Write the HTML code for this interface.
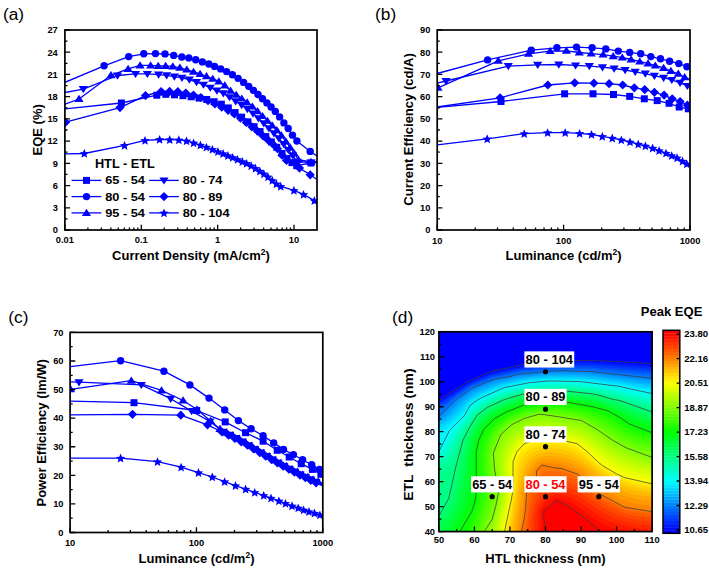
<!DOCTYPE html>
<html><head><meta charset="utf-8"><style>
html,body{margin:0;padding:0;background:#fff;}
svg{display:block;}
text{font-family:"Liberation Sans",sans-serif;}
</style></head><body>
<svg width="709" height="568" viewBox="0 0 709 568" font-family="Liberation Sans, sans-serif">
<rect width="709" height="568" fill="#fff"/>
<defs>
<clipPath id="clipA"><rect x="64.9" y="30" width="252.1" height="200"/></clipPath>
<clipPath id="clipB"><rect x="437.2" y="30" width="252.8" height="200"/></clipPath>
<clipPath id="clipC"><rect x="70.1" y="332.4" width="252.70000000000002" height="200.10000000000002"/></clipPath>
<clipPath id="clipD"><rect x="438.9" y="331.8" width="213.20000000000005" height="199.8"/></clipPath>
</defs>
<text x="2.96" y="19.90" font-size="17.3" text-anchor="start" font-weight="normal" fill="#000" >(a)</text>
<text x="375.06" y="19.90" font-size="17.3" text-anchor="start" font-weight="normal" fill="#000" >(b)</text>
<text x="8.26" y="322.70" font-size="17.3" text-anchor="start" font-weight="normal" fill="#000" >(c)</text>
<text x="392.06" y="322.70" font-size="17.3" text-anchor="start" font-weight="normal" fill="#000" >(d)</text>
<g clip-path="url(#clipA)"><path d="M65.00 153.80 L84.30 153.50 L124.50 145.40 L145.00 140.40 L159.60 139.50 L169.70 139.59 L178.80 139.80 L186.50 140.94 L193.60 142.97 L200.40 145.03 L206.40 147.13 L212.40 149.47 L217.90 151.61 L223.10 153.62 L227.90 155.53 L232.70 157.50 L237.50 159.50 L242.30 161.53 L246.60 163.46 L251.20 165.77 L255.50 168.28 L259.80 171.08 L263.90 173.88 L268.00 176.89 L272.30 180.50 L276.40 183.77 L280.70 186.30 L293.90 190.30 L303.50 194.40 L314.30 200.60 L317.00 202.00" fill="none" stroke="#0000ff" stroke-width="1.3" stroke-linejoin="round"/>
<g fill="#0000ff"><path d="M84.30 149.00L85.60 152.12L88.96 152.39L86.40 154.58L87.18 157.86L84.30 156.11L81.42 157.86L82.20 154.58L79.64 152.39L83.00 152.12Z"/><path d="M124.50 140.90L125.80 144.02L129.16 144.29L126.60 146.48L127.38 149.76L124.50 148.01L121.62 149.76L122.40 146.48L119.84 144.29L123.20 144.02Z"/><path d="M145.00 135.90L146.30 139.02L149.66 139.29L147.10 141.48L147.88 144.76L145.00 143.01L142.12 144.76L142.90 141.48L140.34 139.29L143.70 139.02Z"/><path d="M159.60 135.00L160.90 138.12L164.26 138.39L161.70 140.58L162.48 143.86L159.60 142.11L156.72 143.86L157.50 140.58L154.94 138.39L158.30 138.12Z"/><path d="M169.70 135.09L171.00 138.20L174.36 138.47L171.80 140.67L172.58 143.95L169.70 142.19L166.82 143.95L167.60 140.67L165.04 138.47L168.40 138.20Z"/><path d="M178.80 135.30L180.10 138.42L183.46 138.69L180.90 140.88L181.68 144.16L178.80 142.41L175.92 144.16L176.70 140.88L174.14 138.69L177.50 138.42Z"/><path d="M186.50 136.44L187.80 139.56L191.16 139.83L188.60 142.02L189.38 145.31L186.50 143.55L183.62 145.31L184.40 142.02L181.84 139.83L185.20 139.56Z"/><path d="M193.60 138.47L194.90 141.59L198.26 141.86L195.70 144.06L196.48 147.34L193.60 145.58L190.72 147.34L191.50 144.06L188.94 141.86L192.30 141.59Z"/><path d="M200.40 140.53L201.70 143.64L205.06 143.91L202.50 146.11L203.28 149.39L200.40 147.63L197.52 149.39L198.30 146.11L195.74 143.91L199.10 143.64Z"/><path d="M206.40 142.63L207.70 145.75L211.06 146.02L208.50 148.21L209.28 151.50L206.40 149.74L203.52 151.50L204.30 148.21L201.74 146.02L205.10 145.75Z"/><path d="M212.40 144.97L213.70 148.08L217.06 148.35L214.50 150.55L215.28 153.83L212.40 152.07L209.52 153.83L210.30 150.55L207.74 148.35L211.10 148.08Z"/><path d="M217.90 147.11L219.20 150.22L222.56 150.49L220.00 152.69L220.78 155.97L217.90 154.21L215.02 155.97L215.80 152.69L213.24 150.49L216.60 150.22Z"/><path d="M223.10 149.12L224.40 152.24L227.76 152.51L225.20 154.70L225.98 157.99L223.10 156.23L220.22 157.99L221.00 154.70L218.44 152.51L221.80 152.24Z"/><path d="M227.90 151.03L229.20 154.14L232.56 154.41L230.00 156.61L230.78 159.89L227.90 158.13L225.02 159.89L225.80 156.61L223.24 154.41L226.60 154.14Z"/><path d="M232.70 153.00L234.00 156.11L237.36 156.38L234.80 158.58L235.58 161.86L232.70 160.10L229.82 161.86L230.60 158.58L228.04 156.38L231.40 156.11Z"/><path d="M237.50 155.00L238.80 158.12L242.16 158.39L239.60 160.58L240.38 163.87L237.50 162.11L234.62 163.87L235.40 160.58L232.84 158.39L236.20 158.12Z"/><path d="M242.30 157.03L243.60 160.14L246.96 160.41L244.40 162.61L245.18 165.89L242.30 164.13L239.42 165.89L240.20 162.61L237.64 160.41L241.00 160.14Z"/><path d="M246.60 158.96L247.90 162.08L251.26 162.35L248.70 164.54L249.48 167.82L246.60 166.06L243.72 167.82L244.50 164.54L241.94 162.35L245.30 162.08Z"/><path d="M251.20 161.27L252.50 164.38L255.86 164.65L253.30 166.85L254.08 170.13L251.20 168.37L248.32 170.13L249.10 166.85L246.54 164.65L249.90 164.38Z"/><path d="M255.50 163.78L256.80 166.90L260.16 167.17L257.60 169.36L258.38 172.64L255.50 170.88L252.62 172.64L253.40 169.36L250.84 167.17L254.20 166.90Z"/><path d="M259.80 166.58L261.10 169.69L264.46 169.96L261.90 172.16L262.68 175.44L259.80 173.68L256.92 175.44L257.70 172.16L255.14 169.96L258.50 169.69Z"/><path d="M263.90 169.38L265.20 172.49L268.56 172.76L266.00 174.96L266.78 178.24L263.90 176.48L261.02 178.24L261.80 174.96L259.24 172.76L262.60 172.49Z"/><path d="M268.00 172.39L269.30 175.50L272.66 175.77L270.10 177.97L270.88 181.25L268.00 179.49L265.12 181.25L265.90 177.97L263.34 175.77L266.70 175.50Z"/><path d="M272.30 176.00L273.60 179.12L276.96 179.39L274.40 181.59L275.18 184.87L272.30 183.11L269.42 184.87L270.20 181.59L267.64 179.39L271.00 179.12Z"/><path d="M276.40 179.27L277.70 182.39L281.06 182.66L278.50 184.85L279.28 188.14L276.40 186.38L273.52 188.14L274.30 184.85L271.74 182.66L275.10 182.39Z"/><path d="M280.70 181.80L282.00 184.92L285.36 185.19L282.80 187.38L283.58 190.66L280.70 188.91L277.82 190.66L278.60 187.38L276.04 185.19L279.40 184.92Z"/><path d="M293.90 185.80L295.20 188.92L298.56 189.19L296.00 191.38L296.78 194.66L293.90 192.91L291.02 194.66L291.80 191.38L289.24 189.19L292.60 188.92Z"/><path d="M303.50 189.90L304.80 193.02L308.16 193.29L305.60 195.48L306.38 198.76L303.50 197.01L300.62 198.76L301.40 195.48L298.84 193.29L302.20 193.02Z"/><path d="M314.30 196.10L315.60 199.22L318.96 199.49L316.40 201.68L317.18 204.96L314.30 203.21L311.42 204.96L312.20 201.68L309.64 199.49L313.00 199.22Z"/></g></g>
<g clip-path="url(#clipA)"><path d="M65.60 122.20 L120.00 107.60 L145.50 95.60 L161.10 91.50 L169.60 91.41 L177.82 91.70 L185.76 93.00 L193.43 95.06 L200.85 97.52 L208.02 100.64 L214.95 103.99 L221.65 107.14 L228.12 110.32 L234.38 113.94 L240.42 118.12 L246.27 122.48 L251.92 126.78 L257.38 131.13 L262.66 135.48 L267.76 139.68 L272.69 143.89 L277.46 148.75 L282.06 155.16 L286.51 160.43 L299.50 168.10 L310.20 174.80 L317.00 179.50" fill="none" stroke="#0000ff" stroke-width="1.3" stroke-linejoin="round"/>
<g fill="#0000ff"><path d="M65.60 117.60L70.20 122.20L65.60 126.80L61.00 122.20Z"/><path d="M120.00 103.00L124.60 107.60L120.00 112.20L115.40 107.60Z"/><path d="M145.50 91.00L150.10 95.60L145.50 100.20L140.90 95.60Z"/><path d="M161.10 86.90L165.70 91.50L161.10 96.10L156.50 91.50Z"/><path d="M169.60 86.81L174.20 91.41L169.60 96.01L165.00 91.41Z"/><path d="M177.82 87.10L182.42 91.70L177.82 96.30L173.22 91.70Z"/><path d="M185.76 88.40L190.36 93.00L185.76 97.60L181.16 93.00Z"/><path d="M193.43 90.46L198.03 95.06L193.43 99.66L188.83 95.06Z"/><path d="M200.85 92.92L205.45 97.52L200.85 102.12L196.25 97.52Z"/><path d="M208.02 96.04L212.62 100.64L208.02 105.24L203.42 100.64Z"/><path d="M214.95 99.39L219.55 103.99L214.95 108.59L210.35 103.99Z"/><path d="M221.65 102.54L226.25 107.14L221.65 111.74L217.05 107.14Z"/><path d="M228.12 105.72L232.72 110.32L228.12 114.92L223.52 110.32Z"/><path d="M234.38 109.34L238.98 113.94L234.38 118.54L229.78 113.94Z"/><path d="M240.42 113.52L245.02 118.12L240.42 122.72L235.82 118.12Z"/><path d="M246.27 117.88L250.87 122.48L246.27 127.08L241.67 122.48Z"/><path d="M251.92 122.18L256.52 126.78L251.92 131.38L247.32 126.78Z"/><path d="M257.38 126.53L261.98 131.13L257.38 135.73L252.78 131.13Z"/><path d="M262.66 130.88L267.26 135.48L262.66 140.08L258.06 135.48Z"/><path d="M267.76 135.08L272.36 139.68L267.76 144.28L263.16 139.68Z"/><path d="M272.69 139.29L277.29 143.89L272.69 148.49L268.09 143.89Z"/><path d="M277.46 144.15L282.06 148.75L277.46 153.35L272.86 148.75Z"/><path d="M282.06 150.56L286.66 155.16L282.06 159.76L277.46 155.16Z"/><path d="M286.51 155.83L291.11 160.43L286.51 165.03L281.91 160.43Z"/><path d="M299.50 163.50L304.10 168.10L299.50 172.70L294.90 168.10Z"/><path d="M310.20 170.20L314.80 174.80L310.20 179.40L305.60 174.80Z"/></g></g>
<g clip-path="url(#clipA)"><path d="M65.00 108.80 L121.40 103.00 L156.80 95.20 L165.80 94.33 L174.52 94.83 L182.96 95.70 L191.14 96.78 L199.06 98.06 L206.73 99.50 L214.16 101.74 L221.36 104.17 L228.33 107.93 L235.08 112.60 L241.62 117.17 L247.96 121.85 L254.09 126.66 L260.04 131.58 L265.79 136.64 L271.37 141.89 L276.77 147.30 L282.00 153.39 L287.06 158.55 L291.97 162.62 L296.72 165.72 L311.00 163.00 L317.00 162.50" fill="none" stroke="#0000ff" stroke-width="1.3" stroke-linejoin="round"/>
<g fill="#0000ff"><rect x="117.90" y="99.50" width="7.00" height="7.00"/><rect x="153.30" y="91.70" width="7.00" height="7.00"/><rect x="162.30" y="90.83" width="7.00" height="7.00"/><rect x="171.02" y="91.33" width="7.00" height="7.00"/><rect x="179.46" y="92.20" width="7.00" height="7.00"/><rect x="187.64" y="93.28" width="7.00" height="7.00"/><rect x="195.56" y="94.56" width="7.00" height="7.00"/><rect x="203.23" y="96.00" width="7.00" height="7.00"/><rect x="210.66" y="98.24" width="7.00" height="7.00"/><rect x="217.86" y="100.67" width="7.00" height="7.00"/><rect x="224.83" y="104.43" width="7.00" height="7.00"/><rect x="231.58" y="109.10" width="7.00" height="7.00"/><rect x="238.12" y="113.67" width="7.00" height="7.00"/><rect x="244.46" y="118.35" width="7.00" height="7.00"/><rect x="250.59" y="123.16" width="7.00" height="7.00"/><rect x="256.54" y="128.08" width="7.00" height="7.00"/><rect x="262.29" y="133.14" width="7.00" height="7.00"/><rect x="267.87" y="138.39" width="7.00" height="7.00"/><rect x="273.27" y="143.80" width="7.00" height="7.00"/><rect x="278.50" y="149.89" width="7.00" height="7.00"/><rect x="283.56" y="155.05" width="7.00" height="7.00"/><rect x="288.47" y="159.12" width="7.00" height="7.00"/><rect x="293.22" y="162.22" width="7.00" height="7.00"/><rect x="307.50" y="159.50" width="7.00" height="7.00"/></g></g>
<g clip-path="url(#clipA)"><path d="M65.00 92.50 L83.30 89.10 L117.50 75.50 L135.50 73.90 L147.40 73.90 L158.60 74.60 L166.60 75.32 L174.39 76.55 L181.96 77.87 L189.33 79.55 L196.51 82.12 L203.49 84.67 L210.28 87.63 L216.89 90.58 L223.33 93.37 L229.59 97.13 L235.68 101.21 L241.61 105.05 L247.38 109.03 L252.99 113.43 L258.45 118.32 L263.77 123.37 L268.94 128.32 L273.98 133.25 L278.88 138.36 L283.65 143.95 L288.29 149.90 L292.80 155.52 L297.19 161.71 L311.00 162.50 L317.00 162.00" fill="none" stroke="#0000ff" stroke-width="1.3" stroke-linejoin="round"/>
<g fill="#0000ff"><path d="M83.30 93.30L87.90 86.10L78.70 86.10Z"/><path d="M117.50 79.70L122.10 72.50L112.90 72.50Z"/><path d="M135.50 78.10L140.10 70.90L130.90 70.90Z"/><path d="M147.40 78.10L152.00 70.90L142.80 70.90Z"/><path d="M158.60 78.80L163.20 71.60L154.00 71.60Z"/><path d="M166.60 79.52L171.20 72.32L162.00 72.32Z"/><path d="M174.39 80.75L178.99 73.55L169.79 73.55Z"/><path d="M181.96 82.07L186.56 74.87L177.36 74.87Z"/><path d="M189.33 83.75L193.93 76.55L184.73 76.55Z"/><path d="M196.51 86.32L201.11 79.12L191.91 79.12Z"/><path d="M203.49 88.87L208.09 81.67L198.89 81.67Z"/><path d="M210.28 91.83L214.88 84.63L205.68 84.63Z"/><path d="M216.89 94.78L221.49 87.58L212.29 87.58Z"/><path d="M223.33 97.57L227.93 90.37L218.73 90.37Z"/><path d="M229.59 101.33L234.19 94.13L224.99 94.13Z"/><path d="M235.68 105.41L240.28 98.21L231.08 98.21Z"/><path d="M241.61 109.25L246.21 102.05L237.01 102.05Z"/><path d="M247.38 113.23L251.98 106.03L242.78 106.03Z"/><path d="M252.99 117.63L257.59 110.43L248.39 110.43Z"/><path d="M258.45 122.52L263.05 115.32L253.85 115.32Z"/><path d="M263.77 127.57L268.37 120.37L259.17 120.37Z"/><path d="M268.94 132.52L273.54 125.32L264.34 125.32Z"/><path d="M273.98 137.45L278.58 130.25L269.38 130.25Z"/><path d="M278.88 142.56L283.48 135.36L274.28 135.36Z"/><path d="M283.65 148.15L288.25 140.95L279.05 140.95Z"/><path d="M288.29 154.10L292.89 146.90L283.69 146.90Z"/><path d="M292.80 159.72L297.40 152.52L288.20 152.52Z"/><path d="M297.19 165.91L301.79 158.71L292.59 158.71Z"/><path d="M311.00 166.70L315.60 159.50L306.40 159.50Z"/></g></g>
<g clip-path="url(#clipA)"><path d="M65.00 104.20 L79.00 99.00 L111.00 75.30 L128.10 68.90 L140.10 65.40 L150.60 65.41 L158.20 65.90 L165.62 65.90 L172.85 66.44 L179.91 67.77 L186.80 69.61 L193.52 71.87 L200.08 73.96 L206.48 76.25 L212.73 78.87 L218.82 81.45 L224.76 85.57 L230.56 90.66 L236.22 94.85 L241.75 98.59 L247.14 102.38 L252.39 106.61 L257.52 111.28 L262.53 116.12 L267.42 120.86 L272.18 125.44 L276.83 130.19 L281.37 135.49 L285.80 141.46 L290.12 147.46 L294.33 153.49 L298.45 159.69 L311.00 162.00 L317.00 161.50" fill="none" stroke="#0000ff" stroke-width="1.3" stroke-linejoin="round"/>
<g fill="#0000ff"><path d="M79.00 94.80L83.60 102.00L74.40 102.00Z"/><path d="M111.00 71.10L115.60 78.30L106.40 78.30Z"/><path d="M128.10 64.70L132.70 71.90L123.50 71.90Z"/><path d="M140.10 61.20L144.70 68.40L135.50 68.40Z"/><path d="M150.60 61.21L155.20 68.41L146.00 68.41Z"/><path d="M158.20 61.70L162.80 68.90L153.60 68.90Z"/><path d="M165.62 61.70L170.22 68.90L161.02 68.90Z"/><path d="M172.85 62.24L177.45 69.44L168.25 69.44Z"/><path d="M179.91 63.57L184.51 70.77L175.31 70.77Z"/><path d="M186.80 65.41L191.40 72.61L182.20 72.61Z"/><path d="M193.52 67.67L198.12 74.87L188.92 74.87Z"/><path d="M200.08 69.76L204.68 76.96L195.48 76.96Z"/><path d="M206.48 72.05L211.08 79.25L201.88 79.25Z"/><path d="M212.73 74.67L217.33 81.87L208.13 81.87Z"/><path d="M218.82 77.25L223.42 84.45L214.22 84.45Z"/><path d="M224.76 81.37L229.36 88.57L220.16 88.57Z"/><path d="M230.56 86.46L235.16 93.66L225.96 93.66Z"/><path d="M236.22 90.65L240.82 97.85L231.62 97.85Z"/><path d="M241.75 94.39L246.35 101.59L237.15 101.59Z"/><path d="M247.14 98.18L251.74 105.38L242.54 105.38Z"/><path d="M252.39 102.41L256.99 109.61L247.79 109.61Z"/><path d="M257.52 107.08L262.12 114.28L252.92 114.28Z"/><path d="M262.53 111.92L267.13 119.12L257.93 119.12Z"/><path d="M267.42 116.66L272.02 123.86L262.82 123.86Z"/><path d="M272.18 121.24L276.78 128.44L267.58 128.44Z"/><path d="M276.83 125.99L281.43 133.19L272.23 133.19Z"/><path d="M281.37 131.29L285.97 138.49L276.77 138.49Z"/><path d="M285.80 137.26L290.40 144.46L281.20 144.46Z"/><path d="M290.12 143.26L294.72 150.46L285.52 150.46Z"/><path d="M294.33 149.29L298.93 156.49L289.73 156.49Z"/><path d="M298.45 155.49L303.05 162.69L293.85 162.69Z"/><path d="M311.00 157.80L315.60 165.00L306.40 165.00Z"/></g></g>
<g clip-path="url(#clipA)"><path d="M65.00 82.30 L104.10 65.80 L128.70 56.60 L143.80 53.80 L155.50 53.60 L165.00 53.90 L173.70 55.40 L181.80 57.06 L188.80 57.90 L195.70 59.73 L202.40 61.90 L208.80 64.07 L214.60 66.38 L220.70 68.88 L226.60 71.60 L232.40 74.71 L238.10 78.37 L243.60 82.38 L248.70 86.36 L253.40 90.35 L258.00 94.52 L262.50 98.75 L266.90 102.88 L271.10 106.93 L275.30 111.38 L279.60 116.88 L283.90 122.90 L288.20 128.50 L292.50 135.16 L296.90 140.99 L310.20 151.40 L317.00 156.00" fill="none" stroke="#0000ff" stroke-width="1.3" stroke-linejoin="round"/>
<g fill="#0000ff"><circle cx="104.10" cy="65.80" r="3.70"/><circle cx="128.70" cy="56.60" r="3.70"/><circle cx="143.80" cy="53.80" r="3.70"/><circle cx="155.50" cy="53.60" r="3.70"/><circle cx="165.00" cy="53.90" r="3.70"/><circle cx="173.70" cy="55.40" r="3.70"/><circle cx="181.80" cy="57.06" r="3.70"/><circle cx="188.80" cy="57.90" r="3.70"/><circle cx="195.70" cy="59.73" r="3.70"/><circle cx="202.40" cy="61.90" r="3.70"/><circle cx="208.80" cy="64.07" r="3.70"/><circle cx="214.60" cy="66.38" r="3.70"/><circle cx="220.70" cy="68.88" r="3.70"/><circle cx="226.60" cy="71.60" r="3.70"/><circle cx="232.40" cy="74.71" r="3.70"/><circle cx="238.10" cy="78.37" r="3.70"/><circle cx="243.60" cy="82.38" r="3.70"/><circle cx="248.70" cy="86.36" r="3.70"/><circle cx="253.40" cy="90.35" r="3.70"/><circle cx="258.00" cy="94.52" r="3.70"/><circle cx="262.50" cy="98.75" r="3.70"/><circle cx="266.90" cy="102.88" r="3.70"/><circle cx="271.10" cy="106.93" r="3.70"/><circle cx="275.30" cy="111.38" r="3.70"/><circle cx="279.60" cy="116.88" r="3.70"/><circle cx="283.90" cy="122.90" r="3.70"/><circle cx="288.20" cy="128.50" r="3.70"/><circle cx="292.50" cy="135.16" r="3.70"/><circle cx="296.90" cy="140.99" r="3.70"/><circle cx="310.20" cy="151.40" r="3.70"/></g></g>
<path d="M64.90 230.00h5.2 M64.90 207.78h5.2 M64.90 185.56h5.2 M64.90 163.33h5.2 M64.90 141.11h5.2 M64.90 118.89h5.2 M64.90 96.67h5.2 M64.90 74.44h5.2 M64.90 52.22h5.2 M64.90 30.00h5.2 M64.90 218.89h2.6 M64.90 196.67h2.6 M64.90 174.44h2.6 M64.90 152.22h2.6 M64.90 130.00h2.6 M64.90 107.78h2.6 M64.90 85.56h2.6 M64.90 63.33h2.6 M64.90 41.11h2.6 M64.90 230.00v-5.2 M141.27 230.00v-5.2 M217.64 230.00v-5.2 M294.01 230.00v-5.2 M87.89 230.00v-2.6 M101.34 230.00v-2.6 M110.88 230.00v-2.6 M118.28 230.00v-2.6 M124.33 230.00v-2.6 M129.44 230.00v-2.6 M133.87 230.00v-2.6 M137.78 230.00v-2.6 M164.26 230.00v-2.6 M177.71 230.00v-2.6 M187.25 230.00v-2.6 M194.65 230.00v-2.6 M200.70 230.00v-2.6 M205.81 230.00v-2.6 M210.24 230.00v-2.6 M214.15 230.00v-2.6 M240.63 230.00v-2.6 M254.08 230.00v-2.6 M263.62 230.00v-2.6 M271.02 230.00v-2.6 M277.07 230.00v-2.6 M282.18 230.00v-2.6 M286.61 230.00v-2.6 M290.52 230.00v-2.6" stroke="#000" stroke-width="1.3" fill="none"/>
<rect x="64.90" y="30.00" width="252.10" height="200.00" fill="none" stroke="#000" stroke-width="1.7"/>
<text x="57.80" y="233.30" font-size="9.3" text-anchor="end" font-weight="bold" fill="#000" >0</text>
<text x="57.80" y="211.08" font-size="9.3" text-anchor="end" font-weight="bold" fill="#000" >3</text>
<text x="57.80" y="188.86" font-size="9.3" text-anchor="end" font-weight="bold" fill="#000" >6</text>
<text x="57.80" y="166.63" font-size="9.3" text-anchor="end" font-weight="bold" fill="#000" >9</text>
<text x="57.80" y="144.41" font-size="9.3" text-anchor="end" font-weight="bold" fill="#000" >12</text>
<text x="57.80" y="122.19" font-size="9.3" text-anchor="end" font-weight="bold" fill="#000" >15</text>
<text x="57.80" y="99.97" font-size="9.3" text-anchor="end" font-weight="bold" fill="#000" >18</text>
<text x="57.80" y="77.74" font-size="9.3" text-anchor="end" font-weight="bold" fill="#000" >21</text>
<text x="57.80" y="55.52" font-size="9.3" text-anchor="end" font-weight="bold" fill="#000" >24</text>
<text x="57.80" y="33.30" font-size="9.3" text-anchor="end" font-weight="bold" fill="#000" >27</text>
<text x="64.90" y="243.20" font-size="9.3" text-anchor="middle" font-weight="bold" fill="#000" >0.01</text>
<text x="141.27" y="243.20" font-size="9.3" text-anchor="middle" font-weight="bold" fill="#000" >0.1</text>
<text x="217.64" y="243.20" font-size="9.3" text-anchor="middle" font-weight="bold" fill="#000" >1</text>
<text x="294.01" y="243.20" font-size="9.3" text-anchor="middle" font-weight="bold" fill="#000" >10</text>
<text x="0.00" y="0.00" font-size="13" text-anchor="middle" font-weight="bold" fill="#000" transform="translate(41.6,129.8) rotate(-90)">EQE (%)</text>
<text x="191.00" y="259.70" font-size="13" text-anchor="middle" font-weight="bold" fill="#000" >Current Density (mA/cm<tspan dy="-4.5" font-size="8.5">2</tspan><tspan dy="4.5">)</tspan></text>
<text x="124.90" y="167.50" font-size="12" text-anchor="middle" font-weight="bold" fill="#000" textLength="60" lengthAdjust="spacingAndGlyphs">HTL - ETL</text>
<path d="M71.6 180.4H101.3" stroke="#0000ff" stroke-width="1.3"/>
<g fill="#0000ff"><rect x="83.00" y="176.90" width="7.00" height="7.00"/></g>
<text x="105.20" y="184.30" font-size="11.6" text-anchor="start" font-weight="bold" fill="#000" textLength="39.8" lengthAdjust="spacingAndGlyphs">65 - 54</text>
<path d="M71.6 196.6H101.3" stroke="#0000ff" stroke-width="1.3"/>
<g fill="#0000ff"><circle cx="86.50" cy="196.60" r="3.70"/></g>
<text x="105.20" y="200.50" font-size="11.6" text-anchor="start" font-weight="bold" fill="#000" textLength="39.8" lengthAdjust="spacingAndGlyphs">80 - 54</text>
<path d="M71.6 212.9H101.3" stroke="#0000ff" stroke-width="1.3"/>
<g fill="#0000ff"><path d="M86.50 208.70L91.10 215.90L81.90 215.90Z"/></g>
<text x="105.20" y="216.80" font-size="11.6" text-anchor="start" font-weight="bold" fill="#000" textLength="39.8" lengthAdjust="spacingAndGlyphs">95 - 54</text>
<path d="M149.2 180.4H178.8" stroke="#0000ff" stroke-width="1.3"/>
<g fill="#0000ff"><path d="M164.00 184.60L168.60 177.40L159.40 177.40Z"/></g>
<text x="182.70" y="184.30" font-size="11.6" text-anchor="start" font-weight="bold" fill="#000" textLength="39.8" lengthAdjust="spacingAndGlyphs">80 - 74</text>
<path d="M149.2 196.6H178.8" stroke="#0000ff" stroke-width="1.3"/>
<g fill="#0000ff"><path d="M164.00 192.00L168.60 196.60L164.00 201.20L159.40 196.60Z"/></g>
<text x="182.70" y="200.50" font-size="11.6" text-anchor="start" font-weight="bold" fill="#000" textLength="39.8" lengthAdjust="spacingAndGlyphs">80 - 89</text>
<path d="M149.2 212.9H178.8" stroke="#0000ff" stroke-width="1.3"/>
<g fill="#0000ff"><path d="M164.00 208.40L165.30 211.52L168.66 211.79L166.10 213.98L166.88 217.26L164.00 215.51L161.12 217.26L161.90 213.98L159.34 211.79L162.70 211.52Z"/></g>
<text x="182.70" y="216.80" font-size="11.6" text-anchor="start" font-weight="bold" fill="#000" textLength="46.9" lengthAdjust="spacingAndGlyphs">80 - 104</text>
<g clip-path="url(#clipB)"><path d="M437.20 144.90 L487.20 138.80 L524.20 133.70 L547.60 132.70 L565.20 132.70 L579.60 133.40 L591.50 134.50 L602.30 136.30 L612.30 138.10 L621.30 139.90 L630.00 142.00 L638.20 144.20 L645.40 146.00 L652.60 148.10 L659.10 150.60 L666.00 153.20 L671.70 155.70 L677.10 157.80 L682.50 161.10 L686.80 164.00 L690.00 166.00" fill="none" stroke="#0000ff" stroke-width="1.3" stroke-linejoin="round"/>
<g fill="#0000ff"><path d="M487.20 134.30L488.50 137.42L491.86 137.69L489.30 139.88L490.08 143.16L487.20 141.41L484.32 143.16L485.10 139.88L482.54 137.69L485.90 137.42Z"/><path d="M524.20 129.20L525.50 132.32L528.86 132.59L526.30 134.78L527.08 138.06L524.20 136.31L521.32 138.06L522.10 134.78L519.54 132.59L522.90 132.32Z"/><path d="M547.60 128.20L548.90 131.32L552.26 131.59L549.70 133.78L550.48 137.06L547.60 135.31L544.72 137.06L545.50 133.78L542.94 131.59L546.30 131.32Z"/><path d="M565.20 128.20L566.50 131.32L569.86 131.59L567.30 133.78L568.08 137.06L565.20 135.31L562.32 137.06L563.10 133.78L560.54 131.59L563.90 131.32Z"/><path d="M579.60 128.90L580.90 132.02L584.26 132.29L581.70 134.48L582.48 137.76L579.60 136.01L576.72 137.76L577.50 134.48L574.94 132.29L578.30 132.02Z"/><path d="M591.50 130.00L592.80 133.12L596.16 133.39L593.60 135.58L594.38 138.86L591.50 137.11L588.62 138.86L589.40 135.58L586.84 133.39L590.20 133.12Z"/><path d="M602.30 131.80L603.60 134.92L606.96 135.19L604.40 137.38L605.18 140.66L602.30 138.91L599.42 140.66L600.20 137.38L597.64 135.19L601.00 134.92Z"/><path d="M612.30 133.60L613.60 136.72L616.96 136.99L614.40 139.18L615.18 142.46L612.30 140.71L609.42 142.46L610.20 139.18L607.64 136.99L611.00 136.72Z"/><path d="M621.30 135.40L622.60 138.52L625.96 138.79L623.40 140.98L624.18 144.26L621.30 142.51L618.42 144.26L619.20 140.98L616.64 138.79L620.00 138.52Z"/><path d="M630.00 137.50L631.30 140.62L634.66 140.89L632.10 143.08L632.88 146.36L630.00 144.61L627.12 146.36L627.90 143.08L625.34 140.89L628.70 140.62Z"/><path d="M638.20 139.70L639.50 142.82L642.86 143.09L640.30 145.28L641.08 148.56L638.20 146.81L635.32 148.56L636.10 145.28L633.54 143.09L636.90 142.82Z"/><path d="M645.40 141.50L646.70 144.62L650.06 144.89L647.50 147.08L648.28 150.36L645.40 148.61L642.52 150.36L643.30 147.08L640.74 144.89L644.10 144.62Z"/><path d="M652.60 143.60L653.90 146.72L657.26 146.99L654.70 149.18L655.48 152.46L652.60 150.71L649.72 152.46L650.50 149.18L647.94 146.99L651.30 146.72Z"/><path d="M659.10 146.10L660.40 149.22L663.76 149.49L661.20 151.68L661.98 154.96L659.10 153.21L656.22 154.96L657.00 151.68L654.44 149.49L657.80 149.22Z"/><path d="M666.00 148.70L667.30 151.82L670.66 152.09L668.10 154.28L668.88 157.56L666.00 155.81L663.12 157.56L663.90 154.28L661.34 152.09L664.70 151.82Z"/><path d="M671.70 151.20L673.00 154.32L676.36 154.59L673.80 156.78L674.58 160.06L671.70 158.31L668.82 160.06L669.60 156.78L667.04 154.59L670.40 154.32Z"/><path d="M677.10 153.30L678.40 156.42L681.76 156.69L679.20 158.88L679.98 162.16L677.10 160.41L674.22 162.16L675.00 158.88L672.44 156.69L675.80 156.42Z"/><path d="M682.50 156.60L683.80 159.72L687.16 159.99L684.60 162.18L685.38 165.46L682.50 163.71L679.62 165.46L680.40 162.18L677.84 159.99L681.20 159.72Z"/><path d="M686.80 159.50L688.10 162.62L691.46 162.89L688.90 165.08L689.68 168.36L686.80 166.61L683.92 168.36L684.70 165.08L682.14 162.89L685.50 162.62Z"/></g></g>
<g clip-path="url(#clipB)"><path d="M437.20 107.40 L501.00 101.50 L564.60 93.80 L593.00 93.80 L613.50 94.50 L629.70 96.40 L644.30 98.80 L657.20 100.60 L669.10 103.30 L679.20 107.00 L688.30 108.80 L690.00 109.30" fill="none" stroke="#0000ff" stroke-width="1.3" stroke-linejoin="round"/>
<g fill="#0000ff"><rect x="497.50" y="98.00" width="7.00" height="7.00"/><rect x="561.10" y="90.30" width="7.00" height="7.00"/><rect x="589.50" y="90.30" width="7.00" height="7.00"/><rect x="610.00" y="91.00" width="7.00" height="7.00"/><rect x="626.20" y="92.90" width="7.00" height="7.00"/><rect x="640.80" y="95.30" width="7.00" height="7.00"/><rect x="653.70" y="97.10" width="7.00" height="7.00"/><rect x="665.60" y="99.80" width="7.00" height="7.00"/><rect x="675.70" y="103.50" width="7.00" height="7.00"/><rect x="684.80" y="105.30" width="7.00" height="7.00"/></g></g>
<g clip-path="url(#clipB)"><path d="M437.20 107.00 L500.10 97.80 L547.80 85.00 L574.70 82.80 L593.90 83.20 L609.10 83.70 L622.70 85.00 L634.30 87.80 L644.70 89.60 L654.40 92.30 L664.10 95.10 L672.20 98.80 L680.10 101.50 L687.40 105.20 L690.00 106.50" fill="none" stroke="#0000ff" stroke-width="1.3" stroke-linejoin="round"/>
<g fill="#0000ff"><path d="M500.10 93.20L504.70 97.80L500.10 102.40L495.50 97.80Z"/><path d="M547.80 80.40L552.40 85.00L547.80 89.60L543.20 85.00Z"/><path d="M574.70 78.20L579.30 82.80L574.70 87.40L570.10 82.80Z"/><path d="M593.90 78.60L598.50 83.20L593.90 87.80L589.30 83.20Z"/><path d="M609.10 79.10L613.70 83.70L609.10 88.30L604.50 83.70Z"/><path d="M622.70 80.40L627.30 85.00L622.70 89.60L618.10 85.00Z"/><path d="M634.30 83.20L638.90 87.80L634.30 92.40L629.70 87.80Z"/><path d="M644.70 85.00L649.30 89.60L644.70 94.20L640.10 89.60Z"/><path d="M654.40 87.70L659.00 92.30L654.40 96.90L649.80 92.30Z"/><path d="M664.10 90.50L668.70 95.10L664.10 99.70L659.50 95.10Z"/><path d="M672.20 94.20L676.80 98.80L672.20 103.40L667.60 98.80Z"/><path d="M680.10 96.90L684.70 101.50L680.10 106.10L675.50 101.50Z"/><path d="M687.40 100.60L692.00 105.20L687.40 109.80L682.80 105.20Z"/></g></g>
<g clip-path="url(#clipB)"><path d="M437.20 83.20 L446.00 81.00 L508.30 66.10 L537.70 64.80 L558.80 64.50 L575.60 65.40 L589.30 66.10 L602.50 67.20 L614.10 68.50 L625.10 70.00 L635.20 71.80 L645.30 73.60 L654.40 75.80 L663.60 77.70 L671.80 79.90 L680.10 82.80 L687.40 85.90 L690.00 87.00" fill="none" stroke="#0000ff" stroke-width="1.3" stroke-linejoin="round"/>
<g fill="#0000ff"><path d="M446.00 85.20L450.60 78.00L441.40 78.00Z"/><path d="M508.30 70.30L512.90 63.10L503.70 63.10Z"/><path d="M537.70 69.00L542.30 61.80L533.10 61.80Z"/><path d="M558.80 68.70L563.40 61.50L554.20 61.50Z"/><path d="M575.60 69.60L580.20 62.40L571.00 62.40Z"/><path d="M589.30 70.30L593.90 63.10L584.70 63.10Z"/><path d="M602.50 71.40L607.10 64.20L597.90 64.20Z"/><path d="M614.10 72.70L618.70 65.50L609.50 65.50Z"/><path d="M625.10 74.20L629.70 67.00L620.50 67.00Z"/><path d="M635.20 76.00L639.80 68.80L630.60 68.80Z"/><path d="M645.30 77.80L649.90 70.60L640.70 70.60Z"/><path d="M654.40 80.00L659.00 72.80L649.80 72.80Z"/><path d="M663.60 81.90L668.20 74.70L659.00 74.70Z"/><path d="M671.80 84.10L676.40 76.90L667.20 76.90Z"/><path d="M680.10 87.00L684.70 79.80L675.50 79.80Z"/><path d="M687.40 90.10L692.00 82.90L682.80 82.90Z"/></g></g>
<g clip-path="url(#clipB)"><path d="M437.20 88.30 L438.00 87.82 L498.30 60.80 L528.50 53.80 L550.10 51.10 L566.40 50.80 L579.30 52.50 L591.20 53.60 L603.10 54.60 L613.20 56.20 L622.30 57.60 L631.10 59.50 L639.80 61.60 L648.00 63.40 L655.30 65.60 L663.60 67.90 L670.90 71.00 L678.30 73.80 L684.70 77.30 L690.00 79.50" fill="none" stroke="#0000ff" stroke-width="1.3" stroke-linejoin="round"/>
<g fill="#0000ff"><path d="M438.00 83.62L442.60 90.82L433.40 90.82Z"/><path d="M498.30 56.60L502.90 63.80L493.70 63.80Z"/><path d="M528.50 49.60L533.10 56.80L523.90 56.80Z"/><path d="M550.10 46.90L554.70 54.10L545.50 54.10Z"/><path d="M566.40 46.60L571.00 53.80L561.80 53.80Z"/><path d="M579.30 48.30L583.90 55.50L574.70 55.50Z"/><path d="M591.20 49.40L595.80 56.60L586.60 56.60Z"/><path d="M603.10 50.40L607.70 57.60L598.50 57.60Z"/><path d="M613.20 52.00L617.80 59.20L608.60 59.20Z"/><path d="M622.30 53.40L626.90 60.60L617.70 60.60Z"/><path d="M631.10 55.30L635.70 62.50L626.50 62.50Z"/><path d="M639.80 57.40L644.40 64.60L635.20 64.60Z"/><path d="M648.00 59.20L652.60 66.40L643.40 66.40Z"/><path d="M655.30 61.40L659.90 68.60L650.70 68.60Z"/><path d="M663.60 63.70L668.20 70.90L659.00 70.90Z"/><path d="M670.90 66.80L675.50 74.00L666.30 74.00Z"/><path d="M678.30 69.60L682.90 76.80L673.70 76.80Z"/><path d="M684.70 73.10L689.30 80.30L680.10 80.30Z"/></g></g>
<g clip-path="url(#clipB)"><path d="M437.20 73.50 L487.60 59.90 L531.30 50.20 L556.90 47.80 L576.50 47.10 L592.10 47.80 L605.80 48.90 L618.30 51.10 L629.70 52.40 L640.70 53.80 L650.80 56.60 L660.50 58.80 L669.60 61.20 L678.80 63.60 L686.90 66.70 L690.00 68.00" fill="none" stroke="#0000ff" stroke-width="1.3" stroke-linejoin="round"/>
<g fill="#0000ff"><circle cx="487.60" cy="59.90" r="3.70"/><circle cx="531.30" cy="50.20" r="3.70"/><circle cx="556.90" cy="47.80" r="3.70"/><circle cx="576.50" cy="47.10" r="3.70"/><circle cx="592.10" cy="47.80" r="3.70"/><circle cx="605.80" cy="48.90" r="3.70"/><circle cx="618.30" cy="51.10" r="3.70"/><circle cx="629.70" cy="52.40" r="3.70"/><circle cx="640.70" cy="53.80" r="3.70"/><circle cx="650.80" cy="56.60" r="3.70"/><circle cx="660.50" cy="58.80" r="3.70"/><circle cx="669.60" cy="61.20" r="3.70"/><circle cx="678.80" cy="63.60" r="3.70"/><circle cx="686.90" cy="66.70" r="3.70"/></g></g>
<path d="M437.20 230.00h5.2 M437.20 207.78h5.2 M437.20 185.56h5.2 M437.20 163.33h5.2 M437.20 141.11h5.2 M437.20 118.89h5.2 M437.20 96.67h5.2 M437.20 74.44h5.2 M437.20 52.22h5.2 M437.20 30.00h5.2 M437.20 218.89h2.6 M437.20 196.67h2.6 M437.20 174.44h2.6 M437.20 152.22h2.6 M437.20 130.00h2.6 M437.20 107.78h2.6 M437.20 85.56h2.6 M437.20 63.33h2.6 M437.20 41.11h2.6 M437.20 230.00v-5.2 M563.60 230.00v-5.2 M690.00 230.00v-5.2 M475.25 230.00v-2.6 M497.51 230.00v-2.6 M513.30 230.00v-2.6 M525.55 230.00v-2.6 M535.56 230.00v-2.6 M544.02 230.00v-2.6 M551.35 230.00v-2.6 M557.82 230.00v-2.6 M601.65 230.00v-2.6 M623.91 230.00v-2.6 M639.70 230.00v-2.6 M651.95 230.00v-2.6 M661.96 230.00v-2.6 M670.42 230.00v-2.6 M677.75 230.00v-2.6 M684.22 230.00v-2.6" stroke="#000" stroke-width="1.3" fill="none"/>
<rect x="437.20" y="30.00" width="252.80" height="200.00" fill="none" stroke="#000" stroke-width="1.7"/>
<text x="430.40" y="233.30" font-size="9.3" text-anchor="end" font-weight="bold" fill="#000" >0</text>
<text x="430.40" y="211.08" font-size="9.3" text-anchor="end" font-weight="bold" fill="#000" >10</text>
<text x="430.40" y="188.86" font-size="9.3" text-anchor="end" font-weight="bold" fill="#000" >20</text>
<text x="430.40" y="166.63" font-size="9.3" text-anchor="end" font-weight="bold" fill="#000" >30</text>
<text x="430.40" y="144.41" font-size="9.3" text-anchor="end" font-weight="bold" fill="#000" >40</text>
<text x="430.40" y="122.19" font-size="9.3" text-anchor="end" font-weight="bold" fill="#000" >50</text>
<text x="430.40" y="99.97" font-size="9.3" text-anchor="end" font-weight="bold" fill="#000" >60</text>
<text x="430.40" y="77.74" font-size="9.3" text-anchor="end" font-weight="bold" fill="#000" >70</text>
<text x="430.40" y="55.52" font-size="9.3" text-anchor="end" font-weight="bold" fill="#000" >80</text>
<text x="430.40" y="33.30" font-size="9.3" text-anchor="end" font-weight="bold" fill="#000" >90</text>
<text x="437.20" y="243.70" font-size="9.3" text-anchor="middle" font-weight="bold" fill="#000" >10</text>
<text x="563.60" y="243.70" font-size="9.3" text-anchor="middle" font-weight="bold" fill="#000" >100</text>
<text x="690.00" y="243.70" font-size="9.3" text-anchor="middle" font-weight="bold" fill="#000" >1000</text>
<text x="0.00" y="0.00" font-size="13" text-anchor="middle" font-weight="bold" fill="#000" transform="translate(412.6,129.5) rotate(-90)">Current Efficiency (cd/A)</text>
<text x="563.60" y="259.70" font-size="13" text-anchor="middle" font-weight="bold" fill="#000" >Luminance (cd/m<tspan dy="-4.5" font-size="8.5">2</tspan><tspan dy="4.5">)</tspan></text>
<g clip-path="url(#clipC)"><path d="M70.10 458.10 L120.60 458.10 L157.50 461.70 L181.10 467.20 L198.50 472.60 L212.30 477.00 L224.60 481.70 L235.50 485.60 L245.60 489.10 L254.70 492.40 L263.70 495.50 L271.00 498.10 L278.90 500.90 L285.50 503.40 L292.00 505.80 L298.20 508.00 L303.60 510.00 L309.00 511.60 L314.50 513.10 L319.90 515.00 L322.80 516.00" fill="none" stroke="#0000ff" stroke-width="1.3" stroke-linejoin="round"/>
<g fill="#0000ff"><path d="M120.60 453.60L121.90 456.72L125.26 456.99L122.70 459.18L123.48 462.46L120.60 460.70L117.72 462.46L118.50 459.18L115.94 456.99L119.30 456.72Z"/><path d="M157.50 457.20L158.80 460.32L162.16 460.59L159.60 462.78L160.38 466.06L157.50 464.30L154.62 466.06L155.40 462.78L152.84 460.59L156.20 460.32Z"/><path d="M181.10 462.70L182.40 465.82L185.76 466.09L183.20 468.28L183.98 471.56L181.10 469.80L178.22 471.56L179.00 468.28L176.44 466.09L179.80 465.82Z"/><path d="M198.50 468.10L199.80 471.22L203.16 471.49L200.60 473.68L201.38 476.96L198.50 475.20L195.62 476.96L196.40 473.68L193.84 471.49L197.20 471.22Z"/><path d="M212.30 472.50L213.60 475.62L216.96 475.89L214.40 478.08L215.18 481.36L212.30 479.60L209.42 481.36L210.20 478.08L207.64 475.89L211.00 475.62Z"/><path d="M224.60 477.20L225.90 480.32L229.26 480.59L226.70 482.78L227.48 486.06L224.60 484.30L221.72 486.06L222.50 482.78L219.94 480.59L223.30 480.32Z"/><path d="M235.50 481.10L236.80 484.22L240.16 484.49L237.60 486.68L238.38 489.96L235.50 488.20L232.62 489.96L233.40 486.68L230.84 484.49L234.20 484.22Z"/><path d="M245.60 484.60L246.90 487.72L250.26 487.99L247.70 490.18L248.48 493.46L245.60 491.70L242.72 493.46L243.50 490.18L240.94 487.99L244.30 487.72Z"/><path d="M254.70 487.90L256.00 491.02L259.36 491.29L256.80 493.48L257.58 496.76L254.70 495.00L251.82 496.76L252.60 493.48L250.04 491.29L253.40 491.02Z"/><path d="M263.70 491.00L265.00 494.12L268.36 494.39L265.80 496.58L266.58 499.86L263.70 498.10L260.82 499.86L261.60 496.58L259.04 494.39L262.40 494.12Z"/><path d="M271.00 493.60L272.30 496.72L275.66 496.99L273.10 499.18L273.88 502.46L271.00 500.70L268.12 502.46L268.90 499.18L266.34 496.99L269.70 496.72Z"/><path d="M278.90 496.40L280.20 499.52L283.56 499.79L281.00 501.98L281.78 505.26L278.90 503.50L276.02 505.26L276.80 501.98L274.24 499.79L277.60 499.52Z"/><path d="M285.50 498.90L286.80 502.02L290.16 502.29L287.60 504.48L288.38 507.76L285.50 506.00L282.62 507.76L283.40 504.48L280.84 502.29L284.20 502.02Z"/><path d="M292.00 501.30L293.30 504.42L296.66 504.69L294.10 506.88L294.88 510.16L292.00 508.40L289.12 510.16L289.90 506.88L287.34 504.69L290.70 504.42Z"/><path d="M298.20 503.50L299.50 506.62L302.86 506.89L300.30 509.08L301.08 512.36L298.20 510.60L295.32 512.36L296.10 509.08L293.54 506.89L296.90 506.62Z"/><path d="M303.60 505.50L304.90 508.62L308.26 508.89L305.70 511.08L306.48 514.36L303.60 512.61L300.72 514.36L301.50 511.08L298.94 508.89L302.30 508.62Z"/><path d="M309.00 507.10L310.30 510.22L313.66 510.49L311.10 512.68L311.88 515.96L309.00 514.21L306.12 515.96L306.90 512.68L304.34 510.49L307.70 510.22Z"/><path d="M314.50 508.60L315.80 511.72L319.16 511.99L316.60 514.18L317.38 517.46L314.50 515.71L311.62 517.46L312.40 514.18L309.84 511.99L313.20 511.72Z"/><path d="M319.90 510.50L321.20 513.62L324.56 513.89L322.00 516.08L322.78 519.36L319.90 517.61L317.02 519.36L317.80 516.08L315.24 513.89L318.60 513.62Z"/></g></g>
<g clip-path="url(#clipC)"><path d="M70.10 414.80 L132.50 414.30 L180.80 415.20 L207.50 424.80 L222.00 432.00 L228.50 435.21 L234.91 438.43 L241.24 441.79 L247.48 445.27 L253.63 448.96 L259.70 452.61 L265.69 456.15 L271.60 459.61 L277.43 462.98 L283.18 466.20 L288.85 469.27 L294.45 472.21 L299.96 475.03 L305.41 477.73 L310.78 480.34 L316.08 482.87 L322.80 486.00" fill="none" stroke="#0000ff" stroke-width="1.3" stroke-linejoin="round"/>
<g fill="#0000ff"><path d="M132.50 409.70L137.10 414.30L132.50 418.90L127.90 414.30Z"/><path d="M180.80 410.60L185.40 415.20L180.80 419.80L176.20 415.20Z"/><path d="M207.50 420.20L212.10 424.80L207.50 429.40L202.90 424.80Z"/><path d="M222.00 427.40L226.60 432.00L222.00 436.60L217.40 432.00Z"/><path d="M228.50 430.61L233.10 435.21L228.50 439.81L223.90 435.21Z"/><path d="M234.91 433.83L239.51 438.43L234.91 443.03L230.31 438.43Z"/><path d="M241.24 437.19L245.84 441.79L241.24 446.39L236.64 441.79Z"/><path d="M247.48 440.67L252.08 445.27L247.48 449.87L242.88 445.27Z"/><path d="M253.63 444.36L258.23 448.96L253.63 453.56L249.03 448.96Z"/><path d="M259.70 448.01L264.30 452.61L259.70 457.21L255.10 452.61Z"/><path d="M265.69 451.55L270.29 456.15L265.69 460.75L261.09 456.15Z"/><path d="M271.60 455.01L276.20 459.61L271.60 464.21L267.00 459.61Z"/><path d="M277.43 458.38L282.03 462.98L277.43 467.58L272.83 462.98Z"/><path d="M283.18 461.60L287.78 466.20L283.18 470.80L278.58 466.20Z"/><path d="M288.85 464.67L293.45 469.27L288.85 473.87L284.25 469.27Z"/><path d="M294.45 467.61L299.05 472.21L294.45 476.81L289.85 472.21Z"/><path d="M299.96 470.43L304.56 475.03L299.96 479.63L295.36 475.03Z"/><path d="M305.41 473.13L310.01 477.73L305.41 482.33L300.81 477.73Z"/><path d="M310.78 475.74L315.38 480.34L310.78 484.94L306.18 480.34Z"/><path d="M316.08 478.27L320.68 482.87L316.08 487.47L311.48 482.87Z"/></g></g>
<g clip-path="url(#clipC)"><path d="M70.10 401.10 L134.00 402.70 L196.70 410.50 L225.20 421.90 L245.50 432.70 L263.10 441.20 L277.20 450.30 L289.20 457.00 L301.20 463.70 L312.40 469.40 L320.90 474.30 L322.80 475.30" fill="none" stroke="#0000ff" stroke-width="1.3" stroke-linejoin="round"/>
<g fill="#0000ff"><rect x="130.50" y="399.20" width="7.00" height="7.00"/><rect x="193.20" y="407.00" width="7.00" height="7.00"/><rect x="221.70" y="418.40" width="7.00" height="7.00"/><rect x="242.00" y="429.20" width="7.00" height="7.00"/><rect x="259.60" y="437.70" width="7.00" height="7.00"/><rect x="273.70" y="446.80" width="7.00" height="7.00"/><rect x="285.70" y="453.50" width="7.00" height="7.00"/><rect x="297.70" y="460.20" width="7.00" height="7.00"/><rect x="308.90" y="465.90" width="7.00" height="7.00"/><rect x="317.40" y="470.80" width="7.00" height="7.00"/></g></g>
<g clip-path="url(#clipC)"><path d="M70.10 381.80 L79.00 382.20 L141.30 384.90 L170.70 398.70 L191.60 411.10 L210.00 421.50 L223.00 431.76 L229.50 434.87 L235.90 437.95 L242.20 441.60 L248.40 445.34 L254.51 449.01 L260.52 452.59 L266.44 456.09 L272.27 459.50 L278.01 462.82 L283.66 465.97 L289.22 468.97 L294.70 471.84 L300.09 474.61 L305.40 477.26 L310.62 479.72 L315.77 482.02 L322.80 485.00" fill="none" stroke="#0000ff" stroke-width="1.3" stroke-linejoin="round"/>
<g fill="#0000ff"><path d="M79.00 386.40L83.60 379.20L74.40 379.20Z"/><path d="M141.30 389.10L145.90 381.90L136.70 381.90Z"/><path d="M170.70 402.90L175.30 395.70L166.10 395.70Z"/><path d="M191.60 415.30L196.20 408.10L187.00 408.10Z"/><path d="M210.00 425.70L214.60 418.50L205.40 418.50Z"/><path d="M223.00 435.96L227.60 428.76L218.40 428.76Z"/><path d="M229.50 439.07L234.10 431.87L224.90 431.87Z"/><path d="M235.90 442.15L240.50 434.95L231.30 434.95Z"/><path d="M242.20 445.80L246.80 438.60L237.60 438.60Z"/><path d="M248.40 449.54L253.00 442.34L243.80 442.34Z"/><path d="M254.51 453.21L259.11 446.01L249.91 446.01Z"/><path d="M260.52 456.79L265.12 449.59L255.92 449.59Z"/><path d="M266.44 460.29L271.04 453.09L261.84 453.09Z"/><path d="M272.27 463.70L276.87 456.50L267.67 456.50Z"/><path d="M278.01 467.02L282.61 459.82L273.41 459.82Z"/><path d="M283.66 470.17L288.26 462.97L279.06 462.97Z"/><path d="M289.22 473.17L293.82 465.97L284.62 465.97Z"/><path d="M294.70 476.04L299.30 468.84L290.10 468.84Z"/><path d="M300.09 478.81L304.69 471.61L295.49 471.61Z"/><path d="M305.40 481.46L310.00 474.26L300.80 474.26Z"/><path d="M310.62 483.92L315.22 476.72L306.02 476.72Z"/><path d="M315.77 486.22L320.37 479.02L311.17 479.02Z"/></g></g>
<g clip-path="url(#clipC)"><path d="M70.10 389.50 L70.60 389.29 L131.30 380.70 L161.50 390.40 L183.10 400.50 L197.00 409.50 L210.60 421.00 L220.00 429.00 L226.50 432.54 L232.90 435.47 L239.21 438.70 L245.42 442.10 L251.54 445.69 L257.57 449.34 L263.50 452.86 L269.35 456.29 L275.11 459.65 L280.78 462.88 L286.37 465.94 L291.88 468.87 L297.30 471.69 L302.64 474.40 L307.90 476.95 L313.08 479.33 L318.18 481.57 L322.80 483.50" fill="none" stroke="#0000ff" stroke-width="1.3" stroke-linejoin="round"/>
<g fill="#0000ff"><path d="M70.60 385.09L75.20 392.29L66.00 392.29Z"/><path d="M131.30 376.50L135.90 383.70L126.70 383.70Z"/><path d="M161.50 386.20L166.10 393.40L156.90 393.40Z"/><path d="M183.10 396.30L187.70 403.50L178.50 403.50Z"/><path d="M197.00 405.30L201.60 412.50L192.40 412.50Z"/><path d="M210.60 416.80L215.20 424.00L206.00 424.00Z"/><path d="M220.00 424.80L224.60 432.00L215.40 432.00Z"/><path d="M226.50 428.34L231.10 435.54L221.90 435.54Z"/><path d="M232.90 431.27L237.50 438.47L228.30 438.47Z"/><path d="M239.21 434.50L243.81 441.70L234.61 441.70Z"/><path d="M245.42 437.90L250.02 445.10L240.82 445.10Z"/><path d="M251.54 441.49L256.14 448.69L246.94 448.69Z"/><path d="M257.57 445.14L262.17 452.34L252.97 452.34Z"/><path d="M263.50 448.66L268.10 455.86L258.90 455.86Z"/><path d="M269.35 452.09L273.95 459.29L264.75 459.29Z"/><path d="M275.11 455.45L279.71 462.65L270.51 462.65Z"/><path d="M280.78 458.68L285.38 465.88L276.18 465.88Z"/><path d="M286.37 461.74L290.97 468.94L281.77 468.94Z"/><path d="M291.88 464.67L296.48 471.87L287.28 471.87Z"/><path d="M297.30 467.49L301.90 474.69L292.70 474.69Z"/><path d="M302.64 470.20L307.24 477.40L298.04 477.40Z"/><path d="M307.90 472.75L312.50 479.95L303.30 479.95Z"/><path d="M313.08 475.13L317.68 482.33L308.48 482.33Z"/><path d="M318.18 477.37L322.78 484.57L313.58 484.57Z"/></g></g>
<g clip-path="url(#clipC)"><path d="M70.10 366.60 L120.60 360.70 L163.90 371.20 L189.90 384.90 L209.00 398.10 L224.70 409.90 L238.40 420.60 L251.10 428.80 L263.10 435.80 L273.70 442.90 L283.50 449.40 L293.40 454.70 L302.60 459.80 L311.70 464.80 L319.50 469.40 L322.80 471.00" fill="none" stroke="#0000ff" stroke-width="1.3" stroke-linejoin="round"/>
<g fill="#0000ff"><circle cx="120.60" cy="360.70" r="3.70"/><circle cx="163.90" cy="371.20" r="3.70"/><circle cx="189.90" cy="384.90" r="3.70"/><circle cx="209.00" cy="398.10" r="3.70"/><circle cx="224.70" cy="409.90" r="3.70"/><circle cx="238.40" cy="420.60" r="3.70"/><circle cx="251.10" cy="428.80" r="3.70"/><circle cx="263.10" cy="435.80" r="3.70"/><circle cx="273.70" cy="442.90" r="3.70"/><circle cx="283.50" cy="449.40" r="3.70"/><circle cx="293.40" cy="454.70" r="3.70"/><circle cx="302.60" cy="459.80" r="3.70"/><circle cx="311.70" cy="464.80" r="3.70"/><circle cx="319.50" cy="469.40" r="3.70"/></g></g>
<path d="M70.10 532.50h5.2 M70.10 503.91h5.2 M70.10 475.33h5.2 M70.10 446.74h5.2 M70.10 418.16h5.2 M70.10 389.57h5.2 M70.10 360.99h5.2 M70.10 332.40h5.2 M70.10 518.21h2.6 M70.10 489.62h2.6 M70.10 461.04h2.6 M70.10 432.45h2.6 M70.10 403.86h2.6 M70.10 375.28h2.6 M70.10 346.69h2.6 M70.10 532.50v-5.2 M196.45 532.50v-5.2 M322.80 532.50v-5.2 M108.14 532.50v-2.6 M130.38 532.50v-2.6 M146.17 532.50v-2.6 M158.41 532.50v-2.6 M168.42 532.50v-2.6 M176.88 532.50v-2.6 M184.21 532.50v-2.6 M190.67 532.50v-2.6 M234.49 532.50v-2.6 M256.73 532.50v-2.6 M272.52 532.50v-2.6 M284.76 532.50v-2.6 M294.77 532.50v-2.6 M303.23 532.50v-2.6 M310.56 532.50v-2.6 M317.02 532.50v-2.6" stroke="#000" stroke-width="1.3" fill="none"/>
<rect x="70.10" y="332.40" width="252.70" height="200.10" fill="none" stroke="#000" stroke-width="1.7"/>
<text x="63.50" y="535.80" font-size="9.3" text-anchor="end" font-weight="bold" fill="#000" >0</text>
<text x="63.50" y="507.21" font-size="9.3" text-anchor="end" font-weight="bold" fill="#000" >10</text>
<text x="63.50" y="478.63" font-size="9.3" text-anchor="end" font-weight="bold" fill="#000" >20</text>
<text x="63.50" y="450.04" font-size="9.3" text-anchor="end" font-weight="bold" fill="#000" >30</text>
<text x="63.50" y="421.46" font-size="9.3" text-anchor="end" font-weight="bold" fill="#000" >40</text>
<text x="63.50" y="392.87" font-size="9.3" text-anchor="end" font-weight="bold" fill="#000" >50</text>
<text x="63.50" y="364.29" font-size="9.3" text-anchor="end" font-weight="bold" fill="#000" >60</text>
<text x="63.50" y="335.70" font-size="9.3" text-anchor="end" font-weight="bold" fill="#000" >70</text>
<text x="70.10" y="546.20" font-size="9.3" text-anchor="middle" font-weight="bold" fill="#000" >10</text>
<text x="196.45" y="546.20" font-size="9.3" text-anchor="middle" font-weight="bold" fill="#000" >100</text>
<text x="322.80" y="546.20" font-size="9.3" text-anchor="middle" font-weight="bold" fill="#000" >1000</text>
<text x="0.00" y="0.00" font-size="13" text-anchor="middle" font-weight="bold" fill="#000" transform="translate(45.6,432.8) rotate(-90)">Power Efficiency (lm/W)</text>
<text x="196.50" y="562.60" font-size="13" text-anchor="middle" font-weight="bold" fill="#000" >Luminance (cd/m<tspan dy="-4.5" font-size="8.5">2</tspan><tspan dy="4.5">)</tspan></text>
<g clip-path="url(#clipD)">
<rect x="438.9" y="331.8" width="213.20000000000005" height="199.8" fill="#0000ff"/>
<path d="M574.4 360.3 593.4 360.3 593.9 360.8 618.4 361.3 618.9 361.8 626.4 361.8 626.9 362.3 634.4 362.3 634.9 362.8 642.4 362.8 642.9 363.3 650.4 363.3 650.9 363.8 651.9 363.8 651.9 531.8 438.9 531.8 438.9 400.3 465.9 382.3 491.4 371.3 495.4 370.8 495.9 370.3 499.9 369.8 500.4 369.3 502.4 369.3 502.9 368.8 506.9 368.3 507.4 367.8 509.4 367.8 511.9 366.8 515.9 366.3 518.4 365.3 520.4 365.3 520.9 364.8 524.9 364.3 525.4 363.8 530.4 363.8 530.9 363.3 535.9 363.3 536.4 362.8 541.9 362.8 542.4 362.3 547.4 362.3 547.9 361.8 564.9 361.3 565.4 360.8 573.9 360.8 574.4 360.3Z" fill="#0008ff"/>
<path d="M575.4 361.8 591.4 361.8 651.9 365.3 651.9 531.8 438.9 531.8 438.9 401.0 443.4 398.8 467.4 382.9 491.9 372.6 526.4 365.2 549.4 363.1 575.4 361.8Z" fill="#0018ff"/>
<path d="M572.4 363.3 590.9 363.2 651.9 367.0 651.9 531.8 438.9 531.8 438.9 401.9 441.4 401.2 444.4 399.6 468.4 383.6 477.4 379.5 492.4 373.5 526.4 366.4 549.4 364.3 572.4 363.3Z" fill="#0028ff"/>
<path d="M563.9 364.8 589.9 364.6 651.9 368.7 651.9 531.8 438.9 531.8 438.9 403.0 441.4 402.5 444.9 400.7 469.4 384.2 492.4 374.6 516.4 369.3 525.4 367.7 545.9 365.7 563.9 364.8Z" fill="#0038ff"/>
<path d="M555.9 366.3 589.4 366.0 651.9 370.5 651.9 531.8 438.9 531.8 438.9 404.3 441.9 403.7 444.9 402.2 459.5 391.8 470.3 384.8 492.4 375.7 521.9 369.4 543.9 367.0 555.9 366.3Z" fill="#0048ff"/>
<path d="M559.4 367.3 589.4 367.4 651.9 372.3 651.9 531.8 438.9 531.8 438.9 405.9 441.9 405.3 445.4 403.5 456.9 394.8 471.4 385.3 493.4 376.4 520.9 370.6 544.9 368.1 559.4 367.3Z" fill="#0058ff"/>
<path d="M552.9 368.8 568.4 368.4 588.9 368.7 651.9 374.2 651.9 531.8 438.9 531.8 438.9 407.8 441.9 407.2 444.9 405.6 455.9 396.8 471.9 386.1 493.4 377.5 519.4 371.9 544.9 369.2 552.9 368.8Z" fill="#0068ff"/>
<path d="M554.4 369.8 569.9 369.6 588.9 370.1 651.9 376.1 651.9 531.8 438.9 531.8 438.9 410.4 441.4 409.8 444.4 408.0 455.9 398.1 472.4 386.8 494.9 377.9 508.9 375.6 519.4 372.9 544.9 370.3 554.4 369.8Z" fill="#0078ff"/>
<path d="M554.4 370.8 589.4 371.3 589.9 371.8 595.4 371.8 595.9 372.3 599.9 372.3 600.4 372.8 608.4 373.3 608.9 373.8 612.9 373.8 613.4 374.3 617.4 374.3 617.9 374.8 621.9 374.8 622.4 375.3 626.4 375.3 626.9 375.8 630.9 375.8 631.4 376.3 635.9 376.3 636.4 376.8 640.4 376.8 640.9 377.3 644.9 377.3 645.4 377.8 649.4 377.8 649.9 378.3 651.9 378.3 651.9 531.8 438.9 531.8 438.9 416.3 439.9 415.8 455.4 399.8 474.4 386.8 476.9 386.3 478.4 385.3 483.4 383.8 484.9 382.8 485.9 382.8 487.4 381.8 488.4 381.8 489.9 380.8 492.4 380.3 493.9 379.3 494.9 379.3 496.9 378.3 499.9 378.3 500.4 377.8 503.9 377.8 504.4 377.3 510.4 376.8 510.9 376.3 514.9 375.3 516.4 374.3 518.9 374.3 519.4 373.8 525.4 373.8 525.9 373.3 531.9 373.3 532.4 372.8 537.4 372.8 537.9 372.3 540.9 372.3 541.4 371.8 544.4 371.8 544.9 371.3 553.9 371.3 554.4 370.8Z" fill="#0087ff"/>
<path d="M554.9 372.3 568.4 372.2 587.9 372.8 651.9 379.9 651.9 531.8 438.9 531.8 438.9 417.2 440.9 416.5 443.3 414.8 457.2 401.3 470.4 391.6 475.9 388.4 490.4 382.5 497.4 380.1 510.4 377.8 519.9 375.4 545.9 372.7 554.9 372.3Z" fill="#0097ff"/>
<path d="M548.4 373.8 565.9 373.4 587.9 374.2 651.9 381.5 651.9 531.8 438.9 531.8 438.9 418.5 441.9 417.7 445.6 415.3 459.1 402.3 468.6 394.8 475.4 390.5 483.7 386.8 497.4 381.6 518.4 377.0 548.4 373.8Z" fill="#00a7ff"/>
<path d="M554.4 374.8 568.9 374.8 588.9 375.7 617.4 378.9 644.4 382.7 651.9 383.2 651.9 531.8 438.9 531.8 438.9 420.2 442.9 419.2 447.4 416.3 463.1 401.3 471.9 394.5 478.9 390.6 491.4 385.3 500.4 382.3 520.4 378.0 544.9 375.3 554.4 374.8Z" fill="#00b7ff"/>
<path d="M547.4 376.3 567.4 376.1 587.4 377.0 615.9 380.2 642.9 384.3 651.9 385.0 651.9 531.8 438.9 531.8 438.9 422.2 442.9 421.4 447.4 418.9 452.9 414.3 463.5 403.3 468.9 398.6 476.4 393.6 486.4 388.9 500.4 383.6 517.9 379.7 527.9 378.2 547.4 376.3Z" fill="#00c7ff"/>
<path d="M550.9 377.3 571.9 377.5 587.9 378.4 617.4 381.8 642.9 386.0 651.9 386.9 651.9 531.8 438.9 531.8 438.9 424.7 443.9 423.6 449.9 419.8 456.4 413.8 466.5 402.8 471.9 398.3 478.9 394.0 488.9 389.5 502.4 384.4 518.9 380.8 529.9 379.1 550.9 377.3Z" fill="#00d7ff"/>
<path d="M546.4 378.8 554.4 378.4 571.9 378.8 586.9 379.6 617.9 383.3 642.9 387.9 651.9 388.9 651.9 531.8 438.9 531.8 438.9 427.9 443.9 426.6 449.4 423.1 458.4 414.9 469.4 402.2 476.4 397.2 484.4 393.1 498.1 387.3 504.9 385.0 527.4 380.6 546.4 378.8Z" fill="#00e7ff"/>
<path d="M547.9 379.8 555.9 379.6 583.9 380.7 620.4 385.1 641.4 389.4 651.9 391.0 651.9 531.8 438.9 531.8 438.9 432.4 443.4 431.1 449.4 426.5 461.4 415.0 469.4 404.2 475.4 399.5 481.4 396.1 504.4 386.3 527.4 381.8 547.9 379.8Z" fill="#00f7ff"/>
<path d="M548.4 380.8 583.4 381.8 583.9 382.3 587.4 382.3 587.9 382.8 591.9 382.8 592.4 383.3 595.9 383.3 596.4 383.8 599.9 383.8 600.4 384.3 603.9 384.3 604.4 384.8 608.4 384.8 608.9 385.3 612.4 385.3 612.9 385.8 616.9 385.8 617.4 386.3 619.9 386.3 620.4 386.8 623.9 387.3 624.4 387.8 626.4 387.8 628.9 388.8 630.9 388.8 633.4 389.8 635.4 389.8 637.9 390.8 639.9 390.8 640.4 391.3 644.4 391.8 646.9 392.8 648.9 392.8 649.4 393.3 651.4 393.3 651.9 393.8 651.9 531.8 438.9 531.8 438.9 451.3 443.9 441.3 444.9 440.3 449.4 430.8 464.9 415.3 469.4 406.3 470.9 404.8 479.4 398.8 484.4 396.3 485.4 396.3 488.9 394.3 489.9 394.3 493.4 392.3 494.4 392.3 497.9 390.3 498.9 390.3 501.4 388.8 502.4 388.8 504.9 387.3 509.9 386.8 510.4 386.3 512.4 386.3 512.9 385.8 514.9 385.8 515.4 385.3 517.4 385.3 517.9 384.8 519.9 384.8 520.4 384.3 522.4 384.3 522.9 383.8 527.4 383.3 527.9 382.8 530.4 382.8 530.9 382.3 541.9 381.8 542.4 381.3 547.9 381.3 548.4 380.8Z" fill="#00fff7"/>
<path d="M550.4 382.3 573.4 382.7 594.9 384.8 618.9 388.2 644.9 394.1 651.9 395.2 651.9 531.8 438.9 531.8 438.9 452.5 440.6 451.3 442.4 448.8 452.2 431.3 465.4 416.4 471.7 406.8 477.4 402.2 483.4 398.6 498.4 391.9 507.4 388.6 531.4 383.9 550.4 382.3Z" fill="#00ffe7"/>
<path d="M549.4 383.8 572.4 384.0 591.4 385.7 616.9 389.6 643.9 395.9 651.9 396.9 651.9 531.8 438.9 531.8 438.9 453.6 441.8 452.3 444.4 449.3 452.6 434.8 455.6 430.3 465.9 417.8 473.1 407.8 478.5 403.3 485.3 399.3 500.4 392.5 508.9 389.7 529.4 385.5 549.4 383.8Z" fill="#00ffd7"/>
<path d="M547.4 385.3 570.9 385.2 591.9 387.2 616.4 391.3 642.9 397.7 651.9 398.8 651.9 531.8 438.9 531.8 438.9 455.3 442.4 454.2 445.5 451.3 448.6 446.8 455.0 434.8 459.0 428.8 473.3 409.8 476.9 406.4 481.2 403.3 495.4 396.2 508.4 391.2 527.4 387.2 547.4 385.3Z" fill="#00ffc7"/>
<path d="M545.4 386.8 569.4 386.4 591.9 388.5 618.4 393.4 643.9 399.9 651.9 400.9 651.9 531.8 438.9 531.8 438.9 457.6 443.4 456.3 447.4 452.7 450.6 447.8 457.6 434.3 462.9 426.3 473.9 411.3 477.4 407.9 481.9 404.5 487.4 401.4 496.4 397.2 509.4 392.4 526.4 388.6 545.4 386.8Z" fill="#00ffb7"/>
<path d="M552.4 387.8 570.4 387.7 594.4 390.2 620.4 395.6 643.9 402.0 651.9 403.1 651.9 531.8 438.9 531.8 438.9 460.7 441.9 460.2 444.4 459.1 446.9 457.2 449.4 454.4 452.4 449.5 460.1 433.8 473.6 413.8 478.4 408.9 485.4 404.0 497.4 398.2 506.4 394.7 516.9 391.8 525.9 390.0 552.4 387.8Z" fill="#00ffa7"/>
<path d="M548.9 389.3 569.4 388.9 593.4 391.4 620.4 397.4 644.4 404.3 651.9 405.5 651.9 531.8 438.9 531.8 438.9 465.1 442.4 464.5 445.4 463.0 448.4 460.6 450.9 457.5 454.1 451.8 461.3 435.3 467.6 424.8 474.4 414.8 478.4 410.7 485.9 405.2 497.9 399.4 505.4 396.5 513.9 393.9 524.4 391.5 548.9 389.3Z" fill="#00ff97"/>
<path d="M558.4 390.3 569.9 390.2 589.4 392.1 598.4 393.6 620.9 399.2 645.9 407.1 651.9 408.1 651.9 531.8 438.9 531.8 438.9 472.2 442.4 471.6 445.4 470.1 448.4 467.6 451.4 463.8 455.4 455.9 462.5 436.8 469.2 424.8 476.4 414.3 486.9 406.1 501.9 399.1 510.9 396.1 521.9 393.2 527.9 392.2 548.9 390.6 558.4 390.3Z" fill="#00ff87"/>
<path d="M559.9 391.3 570.4 391.3 570.9 391.8 579.4 392.3 579.9 392.8 584.4 392.8 584.9 393.3 588.9 393.3 589.4 393.8 592.9 393.8 593.4 394.3 597.9 394.8 598.4 395.3 599.9 395.3 600.4 395.8 601.4 395.8 604.9 397.3 606.4 397.3 609.9 398.8 611.9 398.8 612.4 399.3 616.4 399.8 616.9 400.3 618.9 400.3 622.4 401.8 623.9 401.8 625.9 402.8 626.9 402.8 628.4 403.8 633.9 405.3 635.4 406.3 639.4 407.3 642.4 408.8 643.4 408.8 643.9 409.3 647.9 410.3 649.4 411.3 651.9 411.8 651.9 531.8 438.9 531.8 438.9 515.8 439.9 514.8 441.4 511.3 443.9 507.8 449.4 496.8 449.4 494.8 450.4 492.3 450.4 490.3 451.4 487.8 451.4 485.8 452.4 483.3 452.4 481.3 453.4 478.8 453.4 476.8 454.4 474.3 454.4 472.3 455.4 469.8 455.4 467.8 455.9 467.3 456.4 463.8 457.4 461.8 457.9 458.3 458.9 456.3 458.9 454.8 459.4 454.3 459.9 450.8 460.9 448.8 461.4 445.3 462.4 443.3 462.4 441.8 468.9 428.3 469.9 427.3 470.9 424.8 474.9 419.3 476.4 416.3 479.4 413.3 479.9 413.3 487.4 407.3 490.4 405.8 491.4 405.8 495.9 403.3 496.9 403.3 503.4 399.8 505.9 399.3 506.4 398.8 507.9 398.8 512.9 396.8 516.4 396.3 516.9 395.8 521.9 394.8 523.9 393.8 527.4 393.8 527.9 393.3 533.9 393.3 534.4 392.8 540.4 392.8 540.9 392.3 548.4 392.3 548.9 391.8 559.4 391.8 559.9 391.3Z" fill="#00ff78"/>
<path d="M561.9 392.8 573.9 393.4 587.9 395.0 597.4 396.6 618.9 402.6 643.4 411.3 651.9 413.4 651.9 531.8 438.9 531.8 438.9 517.6 441.2 516.3 444.3 512.3 448.9 504.3 451.5 498.3 454.0 488.8 460.3 459.3 465.1 441.3 471.0 428.8 478.9 416.9 484.1 412.3 490.4 408.0 503.9 401.6 513.4 398.4 523.9 395.6 528.9 394.9 561.9 392.8Z" fill="#00ff68"/>
<path d="M560.9 394.3 573.4 394.8 588.4 396.6 596.9 398.2 618.4 404.4 642.9 413.4 647.9 414.8 651.9 415.3 651.9 531.8 438.9 531.8 438.9 519.9 440.9 519.5 442.9 518.3 446.5 514.3 451.5 505.8 454.9 497.3 457.6 486.3 464.1 452.8 467.4 440.8 473.3 428.3 480.3 418.3 486.4 412.8 492.6 408.8 504.4 403.1 515.4 399.4 523.4 397.2 529.4 396.3 560.9 394.3Z" fill="#00ff58"/>
<path d="M557.9 395.8 571.4 396.0 586.9 398.0 595.9 399.6 615.9 405.5 641.4 415.3 647.4 416.9 651.9 417.3 651.9 531.8 438.9 531.8 438.9 524.2 442.9 522.8 447.4 518.5 452.4 510.8 456.5 501.8 460.1 488.8 465.7 455.8 468.5 443.8 470.8 437.3 473.9 430.8 477.2 425.3 481.0 420.3 486.7 414.8 493.3 410.3 504.4 404.8 514.9 401.0 522.9 398.7 529.4 397.7 557.9 395.8Z" fill="#00ff48"/>
<path d="M553.9 397.3 569.9 397.2 585.4 399.3 595.4 401.1 613.1 406.3 639.9 417.3 646.4 419.0 651.9 419.6 651.9 531.8 444.8 531.8 446.3 527.3 456.2 510.3 460.4 500.3 463.5 487.3 467.9 456.3 470.1 445.3 472.0 439.3 474.6 433.3 477.6 427.8 480.9 423.2 486.5 417.3 492.4 412.7 502.6 407.3 512.4 403.3 520.9 400.6 527.4 399.3 541.9 397.9 553.9 397.3Z" fill="#00ff38"/>
<path d="M549.9 398.8 568.9 398.5 594.9 402.6 611.4 407.4 638.9 419.5 645.9 421.4 651.9 422.1 651.9 531.8 450.8 531.8 451.2 528.8 452.4 525.3 460.6 508.8 464.3 498.8 466.8 486.3 470.0 456.8 471.5 447.3 475.1 436.3 478.1 430.3 480.9 425.9 486.3 419.8 491.9 415.0 499.9 410.3 508.9 406.2 518.4 402.8 524.9 401.1 534.9 399.8 549.9 398.8Z" fill="#00ff28"/>
<path d="M559.4 399.8 566.9 399.7 572.4 400.3 590.9 403.3 600.9 405.7 611.8 409.3 636.4 421.2 645.4 424.0 651.9 424.9 651.9 531.8 454.9 531.8 455.2 528.8 456.3 525.3 464.2 509.3 467.7 499.3 469.9 486.8 472.2 456.3 473.2 448.3 476.5 437.3 479.6 430.8 482.4 426.6 489.7 418.8 494.4 415.1 505.9 409.0 518.1 404.3 523.9 402.6 529.9 401.7 545.4 400.3 559.4 399.8Z" fill="#00ff18"/>
<path d="M557.9 401.3 566.4 401.0 571.9 401.6 591.9 405.0 601.9 407.5 610.9 410.6 633.4 422.7 644.9 426.8 651.9 428.1 651.9 531.8 458.0 531.8 458.4 529.3 459.7 525.8 468.2 509.3 471.2 499.8 473.1 487.8 474.8 449.8 477.6 438.8 482.9 428.4 490.9 419.8 494.4 416.9 506.4 410.4 519.4 405.2 523.9 403.8 533.9 402.6 545.4 401.6 557.9 401.3Z" fill="#00ff08"/>
<path d="M559.9 402.3 568.4 402.3 568.9 402.8 574.4 403.3 574.9 403.8 576.9 403.8 577.4 404.3 579.9 404.3 580.4 404.8 582.9 404.8 583.4 405.3 585.9 405.3 586.4 405.8 591.4 406.3 591.9 406.8 597.4 407.8 599.4 408.8 604.9 409.8 605.4 410.3 607.9 410.8 608.9 411.8 612.4 413.3 613.4 414.3 617.9 416.3 627.9 423.3 630.9 424.8 631.9 424.8 633.4 425.8 638.4 427.3 639.9 428.3 640.9 428.3 642.4 429.3 643.4 429.3 644.9 430.3 647.4 430.8 648.9 431.8 649.9 431.8 651.9 432.8 651.9 531.8 460.4 531.8 460.4 530.8 461.4 529.8 462.9 526.3 463.9 525.3 464.9 522.8 465.9 521.8 466.4 520.3 467.4 519.3 467.9 517.8 468.9 516.8 469.4 515.3 472.4 510.8 472.4 509.3 473.9 505.8 474.4 502.8 474.9 502.3 475.4 497.3 475.9 496.8 475.9 494.3 476.4 493.8 476.4 450.3 476.9 449.8 476.9 447.8 477.4 447.3 477.9 443.3 478.4 442.8 478.4 440.8 480.9 436.3 480.9 435.3 483.4 430.8 483.4 429.8 494.9 418.3 508.9 410.8 509.9 410.8 516.4 407.8 518.9 407.3 522.9 405.3 523.9 405.3 524.4 404.8 527.9 404.8 528.4 404.3 533.4 404.3 533.9 403.8 544.4 403.3 544.9 402.8 559.4 402.8 559.9 402.3Z" fill="#08ff00"/>
<path d="M541.9 404.8 566.9 404.5 581.9 407.0 592.6 409.3 607.4 414.3 616.4 419.1 626.9 425.5 632.4 428.1 644.9 432.8 651.9 434.5 651.9 531.8 466.6 531.8 467.8 525.8 474.3 511.8 477.6 500.3 478.8 490.3 479.0 451.8 481.2 441.8 485.8 431.8 489.7 426.8 495.9 420.8 500.3 417.8 508.9 413.0 524.9 406.8 541.9 404.8Z" fill="#18ff00"/>
<path d="M540.9 406.3 549.4 406.0 566.4 406.5 578.4 408.4 589.4 410.8 598.4 413.7 605.9 416.7 625.7 427.8 633.4 431.4 644.4 435.3 651.9 436.7 651.9 531.8 470.5 531.8 471.6 525.3 477.6 509.8 480.3 498.8 481.3 488.3 481.0 462.8 481.4 452.8 483.4 443.3 487.2 434.3 491.0 428.8 496.3 423.3 501.4 419.4 508.4 415.3 516.9 411.5 524.9 408.6 530.9 407.4 540.9 406.3Z" fill="#28ff00"/>
<path d="M539.9 407.8 548.9 407.6 565.4 408.4 576.9 410.1 586.9 412.4 595.4 415.2 603.4 418.5 624.4 430.1 632.9 434.1 643.9 437.9 651.9 439.1 651.9 531.8 473.7 531.8 474.7 525.3 480.4 509.3 483.0 498.3 483.8 487.8 483.2 463.8 483.6 453.8 485.4 444.8 489.1 435.8 492.6 430.3 497.2 425.3 502.4 421.1 508.9 417.0 516.4 413.5 524.4 410.5 531.4 408.9 539.9 407.8Z" fill="#38ff00"/>
<path d="M538.4 409.3 547.9 409.1 563.9 410.1 575.4 411.8 584.9 413.9 592.9 416.7 601.1 420.3 622.5 432.3 631.9 436.8 642.9 440.5 651.9 441.8 651.9 531.8 476.5 531.8 477.4 525.8 483.1 509.3 485.6 498.3 486.4 487.3 485.5 464.8 485.7 454.8 487.3 446.3 490.8 437.3 494.1 431.8 497.9 427.4 502.9 423.0 508.9 419.0 515.9 415.4 523.9 412.3 530.9 410.5 538.4 409.3Z" fill="#48ff00"/>
<path d="M537.4 410.8 545.9 410.5 561.4 411.7 573.9 413.5 583.4 415.6 590.4 418.1 598.9 422.0 620.4 434.4 630.4 439.3 642.4 443.4 651.9 444.8 651.9 531.8 479.0 531.8 480.0 525.8 486.1 508.8 488.4 497.8 489.1 487.3 487.7 466.3 487.7 455.3 489.2 447.3 492.7 438.3 495.5 433.3 498.9 429.0 503.6 424.8 509.4 420.6 515.4 417.5 523.4 414.1 529.9 412.2 537.4 410.8Z" fill="#58ff00"/>
<path d="M540.9 411.8 562.9 413.7 576.4 415.9 582.9 417.4 597.9 424.3 617.4 436.0 628.4 441.6 641.9 446.5 647.4 447.7 651.9 448.1 651.9 531.8 481.2 531.8 482.2 526.8 488.2 511.3 491.2 498.3 491.9 487.8 490.1 468.3 489.8 454.8 491.3 447.3 495.4 437.3 497.9 433.1 500.9 429.6 506.4 424.8 511.9 421.0 519.9 417.2 525.9 414.9 535.4 412.4 540.9 411.8Z" fill="#68ff00"/>
<path d="M537.9 413.2 543.4 413.1 559.9 415.1 581.9 418.9 597.4 426.8 614.4 437.7 626.4 444.1 641.9 449.9 647.9 451.5 651.9 451.9 651.9 531.8 483.0 531.8 483.9 528.4 490.0 515.3 492.7 505.8 494.3 497.3 494.8 488.8 492.4 469.8 491.7 454.3 492.9 448.8 497.6 437.3 499.4 433.9 501.4 431.5 511.9 422.8 524.4 416.9 537.9 413.2Z" fill="#78ff00"/>
<path d="M538.4 414.3 542.9 414.3 543.4 414.8 546.4 414.8 546.9 415.3 549.9 415.3 550.4 415.8 553.4 415.8 553.9 416.3 556.4 416.3 556.9 416.8 559.9 416.8 560.4 417.3 562.9 417.3 563.4 417.8 565.9 417.8 566.4 418.3 571.4 418.8 571.9 419.3 574.4 419.3 574.9 419.8 580.9 420.3 586.4 423.3 587.4 424.3 589.9 425.3 590.9 426.3 593.4 427.3 594.4 428.3 596.9 429.3 612.9 440.8 617.4 442.8 618.4 443.8 621.9 445.3 622.9 446.3 629.4 449.3 633.4 450.3 634.9 451.3 637.4 451.8 638.9 452.8 642.9 453.8 644.4 454.8 646.9 455.3 648.4 456.3 651.9 457.3 651.9 531.8 484.4 531.8 492.4 519.3 492.4 517.8 493.4 515.8 494.4 510.3 494.9 509.8 495.9 504.8 496.4 504.3 496.4 501.8 497.4 499.3 497.9 494.3 498.4 493.8 497.9 486.3 497.4 485.8 496.9 480.3 496.4 479.8 496.4 477.8 495.9 477.3 494.9 470.3 494.4 469.8 494.4 463.8 493.9 463.3 493.9 456.8 493.4 456.3 493.4 452.8 494.9 449.8 494.9 448.8 496.4 446.3 497.4 442.8 498.4 441.3 499.9 436.3 500.4 435.3 505.4 430.3 505.9 430.3 512.4 424.3 524.4 418.3 525.9 418.3 527.9 417.3 529.4 417.3 529.9 416.8 530.9 416.8 532.9 415.8 534.4 415.8 536.4 414.8 537.9 414.8 538.4 414.3Z" fill="#87ff00"/>
<path d="M537.9 418.8 544.4 418.5 554.4 419.4 570.4 422.0 579.9 424.3 592.9 430.9 611.4 443.2 623.9 450.1 640.4 456.4 647.9 458.7 651.9 459.3 651.9 531.8 489.6 531.8 490.4 527.8 493.7 520.3 495.0 515.8 497.8 504.8 499.8 493.8 499.5 486.3 497.1 468.8 496.8 460.3 497.4 453.3 500.1 445.3 502.8 439.8 505.1 436.3 508.9 432.3 513.9 428.2 518.9 425.2 524.9 422.4 531.4 420.2 537.9 418.8Z" fill="#97ff00"/>
<path d="M538.4 422.3 545.9 421.9 556.4 422.8 569.4 424.9 578.4 427.2 583.9 429.5 590.4 433.0 610.9 446.4 623.4 453.3 631.4 456.6 639.9 459.5 646.9 461.3 651.9 461.9 651.9 531.8 492.6 531.8 493.2 527.3 496.2 518.3 498.8 507.8 501.3 494.8 501.4 487.8 499.7 470.3 499.5 462.3 500.2 454.8 502.4 447.8 504.9 442.8 507.9 438.3 511.7 434.3 515.9 430.9 520.9 427.9 526.4 425.4 532.4 423.5 538.4 422.3Z" fill="#a7ff00"/>
<path d="M541.4 425.3 549.4 425.2 558.9 426.1 569.9 428.1 577.9 430.3 588.9 435.6 610.4 449.8 622.9 456.6 630.9 460.0 638.9 462.6 645.9 464.2 651.9 464.7 651.9 531.8 495.1 531.8 495.7 526.8 500.5 508.3 502.8 495.8 503.2 487.8 502.0 470.3 502.0 463.3 502.9 455.8 505.2 448.8 507.8 443.8 510.7 439.8 514.4 436.1 518.9 432.7 523.9 429.9 529.4 427.7 535.4 426.1 541.4 425.3Z" fill="#b7ff00"/>
<path d="M542.9 428.3 550.9 428.3 559.9 429.2 569.9 431.0 577.4 433.2 587.4 438.1 609.4 453.0 621.9 459.9 629.9 463.2 637.9 465.7 645.4 467.3 651.9 467.8 651.9 531.8 497.3 531.8 497.9 526.3 502.6 506.8 504.6 495.8 505.0 487.3 504.3 463.8 505.3 456.8 507.5 450.3 509.9 445.8 512.9 441.7 516.8 437.8 520.9 434.9 525.4 432.5 530.9 430.4 536.9 429.0 542.9 428.3Z" fill="#c7ff00"/>
<path d="M542.4 431.3 550.4 431.1 558.9 431.9 568.9 433.7 576.9 436.0 585.9 440.4 607.9 456.0 620.9 463.2 628.9 466.5 636.9 469.0 644.9 470.6 651.9 471.2 651.9 531.8 499.3 531.8 500.0 525.8 504.6 505.3 506.3 495.8 506.9 486.8 506.6 464.3 507.6 457.8 509.6 451.8 511.7 447.8 514.6 443.8 518.0 440.3 521.9 437.4 526.4 435.1 531.4 433.2 536.4 432.0 542.4 431.3Z" fill="#d7ff00"/>
<path d="M540.4 434.3 548.9 433.9 556.4 434.4 567.9 436.3 576.4 438.5 584.4 442.7 605.4 458.4 619.4 466.5 626.9 469.7 635.4 472.3 644.4 474.2 651.9 474.8 651.9 531.8 501.2 531.8 501.9 525.8 508.2 495.3 508.9 486.3 508.8 464.3 509.5 459.3 511.3 453.8 513.2 449.8 515.4 446.6 518.9 442.8 522.0 440.3 525.9 438.1 530.9 436.2 540.4 434.3Z" fill="#e7ff00"/>
<path d="M542.4 436.8 549.9 436.5 556.9 437.2 568.9 439.1 576.9 441.3 579.9 442.8 585.9 447.0 604.0 461.8 618.4 470.2 625.4 473.2 632.9 475.5 644.4 478.0 651.9 478.8 651.9 531.8 502.9 531.8 510.3 494.3 510.9 486.3 511.0 463.3 511.7 459.3 513.7 453.8 516.9 448.3 523.4 442.0 533.4 438.0 542.4 436.8Z" fill="#f7ff00"/>
<path d="M549.9 438.8 550.4 439.3 553.4 439.3 553.9 439.8 556.9 439.8 557.4 440.3 567.4 441.3 567.9 441.8 571.9 442.3 574.4 443.3 576.4 443.3 586.9 451.8 587.4 451.8 595.9 460.3 596.4 460.3 602.4 465.8 609.9 469.8 615.9 473.8 624.9 477.8 626.4 477.8 628.9 478.8 630.9 478.8 631.4 479.3 636.9 480.3 637.4 480.8 639.4 480.8 641.9 481.8 643.4 481.8 643.9 482.3 645.9 482.3 646.4 482.8 651.9 483.8 651.9 531.8 504.4 531.8 505.4 526.8 505.9 526.3 506.4 521.8 507.4 519.3 507.4 517.3 507.9 516.8 508.9 509.8 509.9 507.3 509.9 505.3 510.4 504.8 510.4 503.3 511.4 500.8 511.9 495.3 512.4 494.8 512.4 490.3 512.9 489.8 512.9 461.8 513.9 460.3 515.9 453.8 516.9 451.8 519.9 448.8 519.9 448.3 520.9 447.8 522.4 445.8 525.4 443.3 527.9 442.8 529.4 441.8 530.4 441.8 535.4 439.8 549.4 439.3 549.9 438.8Z" fill="#fff700"/>
<path d="M542.9 441.7 549.9 441.5 556.4 442.0 566.9 443.7 574.9 445.9 578.9 448.1 585.4 452.8 601.4 466.5 616.4 475.5 622.9 478.4 626.9 479.7 643.4 483.6 651.9 485.0 651.9 531.8 506.1 531.8 513.2 494.8 514.9 466.8 515.5 462.8 516.9 458.9 520.4 452.5 523.4 449.2 526.4 446.8 534.4 443.2 542.9 441.7Z" fill="#ffe700"/>
<path d="M546.4 444.8 552.9 444.8 560.4 445.6 567.4 447.0 573.4 448.9 577.9 451.1 583.4 454.7 602.4 469.6 616.9 478.2 623.9 481.1 632.4 483.6 643.9 486.1 651.9 487.1 651.9 531.8 508.1 531.8 509.0 524.3 514.3 495.8 517.1 470.3 518.2 465.3 519.6 461.3 523.9 454.5 526.9 451.5 529.9 449.4 537.4 446.2 546.4 444.8Z" fill="#ffd700"/>
<path d="M548.9 448.3 555.4 448.5 562.9 449.6 569.4 451.3 574.9 453.4 583.9 458.8 597.9 469.5 604.9 474.3 613.4 479.3 620.9 482.9 628.4 485.5 636.9 487.7 645.4 489.2 651.9 489.7 651.9 531.8 510.2 531.8 510.9 524.5 515.2 500.8 518.7 476.8 520.2 469.8 522.2 464.3 526.4 457.7 529.4 454.8 532.4 452.6 539.9 449.5 548.9 448.3Z" fill="#ffc700"/>
<path d="M545.9 452.2 551.9 452.0 558.4 452.6 564.9 453.9 570.9 455.7 581.4 461.0 603.4 476.9 616.9 484.5 625.4 487.9 634.4 490.5 643.9 492.3 651.9 492.9 651.9 531.8 512.4 531.8 513.2 523.8 519.4 486.1 521.7 475.8 524.2 468.3 527.9 461.9 532.9 457.0 538.9 453.8 545.9 452.2Z" fill="#ffb700"/>
<path d="M547.9 455.8 554.4 455.9 561.9 457.1 568.4 458.8 574.9 461.5 583.9 466.6 605.9 482.5 613.9 487.0 621.9 490.5 629.4 493.1 636.9 495.0 644.9 496.2 651.9 496.6 651.9 531.8 514.7 531.8 515.3 524.8 520.7 490.3 523.4 480.0 526.7 470.8 530.4 464.4 535.2 459.8 540.9 457.0 547.9 455.8Z" fill="#ffa700"/>
<path d="M543.9 459.7 549.4 459.4 556.9 460.1 563.9 461.5 570.4 463.5 581.1 468.8 602.9 485.0 609.4 489.0 617.4 493.0 625.9 496.4 633.9 498.6 643.4 500.3 651.9 500.9 651.9 531.8 517.0 531.8 522.3 493.3 525.4 482.6 530.3 470.8 533.4 465.9 538.4 461.6 543.9 459.7Z" fill="#ff9700"/>
<path d="M543.9 462.8 550.4 463.1 561.9 464.8 568.9 466.9 576.4 470.0 583.2 474.3 601.9 489.4 611.9 495.1 623.4 500.4 628.9 502.3 636.4 503.9 644.9 505.2 651.9 505.7 651.9 531.8 519.3 531.8 522.6 510.3 524.4 493.8 525.4 489.7 534.9 468.8 539.4 464.4 541.4 463.3 543.9 462.8Z" fill="#ff8700"/>
<path d="M541.9 465.3 543.9 465.3 544.4 465.8 548.4 466.3 548.9 466.8 552.9 467.3 553.4 467.8 561.4 468.3 563.4 469.3 564.4 469.3 565.9 470.3 572.9 472.3 575.9 473.8 576.9 473.8 587.4 482.8 587.9 482.8 597.4 492.8 607.4 497.8 608.4 498.8 614.9 501.8 615.9 502.8 622.4 505.8 624.4 507.3 629.4 507.8 629.9 508.3 632.4 508.3 632.9 508.8 635.4 508.8 635.9 509.3 638.9 509.3 639.4 509.8 641.9 509.8 642.4 510.3 644.9 510.3 645.4 510.8 647.9 510.8 648.4 511.3 650.9 511.3 651.9 511.8 651.9 531.8 521.4 531.8 521.9 528.8 522.4 528.3 522.4 526.3 523.4 523.8 523.4 521.8 523.9 521.3 523.9 519.3 524.4 518.8 524.4 515.8 524.9 515.3 524.9 512.3 525.4 511.8 525.9 500.3 526.4 499.8 526.4 493.3 529.9 485.8 536.4 476.3 536.4 471.3 536.9 470.3 539.9 467.3 540.4 467.3 541.9 465.3Z" fill="#ff7800"/>
<path d="M547.4 471.2 553.4 470.9 560.9 471.6 569.0 473.8 575.4 476.3 579.4 478.8 587.2 484.8 597.4 494.1 623.4 508.0 632.9 510.0 651.9 512.9 651.9 531.8 523.1 531.8 525.8 515.3 528.2 496.3 529.3 492.3 532.9 485.7 540.4 475.3 543.4 472.7 547.4 471.2Z" fill="#ff6800"/>
<path d="M551.9 476.3 557.4 475.9 562.9 476.5 568.9 478.0 574.4 480.1 582.9 485.3 593.9 494.3 598.4 497.4 611.4 504.6 621.9 509.6 626.4 511.0 633.9 512.6 651.9 514.9 651.9 531.8 525.5 531.8 529.4 503.8 530.8 497.8 532.4 493.5 536.4 487.1 541.9 481.1 546.4 478.0 551.9 476.3Z" fill="#ff5800"/>
<path d="M554.9 481.3 559.4 481.0 564.4 481.6 569.4 482.8 574.4 484.8 581.9 489.1 593.7 497.8 600.4 502.1 611.4 508.1 620.4 512.1 626.4 514.0 634.4 515.7 644.4 517.2 651.9 517.7 651.9 531.8 528.2 531.8 528.9 522.8 530.9 509.3 532.6 502.3 535.0 496.3 538.9 490.6 543.9 485.8 548.9 482.9 554.9 481.3Z" fill="#ff4800"/>
<path d="M555.4 486.3 559.9 486.0 564.4 486.4 568.9 487.5 573.9 489.4 580.9 493.2 602.4 507.4 610.9 511.9 618.4 515.1 625.9 517.4 634.4 519.2 644.4 520.7 651.9 521.2 651.9 531.8 531.2 531.8 531.7 522.3 532.9 512.6 534.6 505.8 536.9 500.3 540.4 495.1 544.9 490.8 549.9 487.9 555.4 486.3Z" fill="#ff3800"/>
<path d="M556.4 490.8 560.4 490.6 564.4 491.0 573.4 494.0 580.4 497.9 602.4 512.2 609.4 515.8 615.9 518.5 623.9 521.0 632.9 523.0 643.9 524.7 651.9 525.3 651.9 531.8 534.3 531.8 534.6 521.8 535.4 514.3 536.7 508.8 538.8 503.8 542.3 498.8 546.4 494.9 551.4 492.1 556.4 490.8Z" fill="#ff2800"/>
<path d="M557.4 494.8 560.9 494.8 564.9 495.6 573.3 498.8 580.1 502.8 599.9 516.2 610.9 521.8 617.9 524.1 626.4 526.2 651.9 530.4 651.9 531.8 537.7 531.8 538.1 515.8 538.9 511.3 540.4 507.3 543.5 502.8 547.9 498.6 552.4 496.0 557.4 494.8Z" fill="#ff1800"/>
<path d="M556.9 498.3 559.9 498.5 563.4 499.4 572.4 503.2 598.4 521.5 605.4 525.6 614.4 528.7 629.7 531.8 541.4 531.8 540.9 517.8 541.3 512.8 542.2 509.8 544.4 506.5 548.9 502.3 553.4 499.4 556.9 498.3Z" fill="#ff0800"/>
<path d="M556.9 500.8 562.9 503.8 563.9 503.8 567.4 505.8 568.4 505.8 570.9 507.3 572.9 509.3 577.4 512.3 586.9 520.3 587.4 520.3 589.4 522.3 594.9 526.3 597.4 528.8 598.4 530.8 598.4 531.8 545.9 531.8 545.4 530.8 545.4 527.8 544.9 527.3 544.9 524.3 544.4 523.8 544.4 520.8 543.9 520.3 543.9 510.8 556.9 500.8Z" fill="#ff0000"/>
<path d="M436.0 401.5L439.8 399.7L466.2 382.1L490.9 371.5L510.0 367.4L524.5 364.1L548.0 362.0L574.8 360.5L590.0 360.4L620.0 361.6L651.4 363.6L655.0 363.9M436.0 418.5L439.8 415.6L455.6 399.7L473.2 387.4L496.1 378.6L510.0 376.7L517.3 374.2L536.4 372.7L545.6 371.4L562.8 370.7L579.2 371.3L591.7 371.6L620.0 374.8L651.4 378.2L655.0 378.6M436.0 456.0L439.8 449.8L449.5 430.5L464.4 415.6L470.0 405.5L477.4 400.0L482.0 397.5L504.9 387.4L510.0 386.5L529.8 382.6L549.6 380.9L560.0 381.1L581.1 381.7L602.3 384.3L620.0 386.4L623.2 387.3L651.4 393.5L655.0 394.3M436.0 521.0L439.8 514.5L448.8 498.3L456.0 466.0L463.0 440.0L470.0 426.5L477.4 414.8L487.3 407.4L503.3 400.0L510.0 397.8L524.5 393.8L545.0 392.2L567.4 391.2L591.7 393.8L598.2 395.0L610.9 398.8L620.0 400.7L626.4 402.8L651.0 411.6L655.0 413.0M459.4 535.0L460.6 530.6L465.5 522.0L471.9 511.4L474.8 502.0L476.4 492.3L476.5 483.9L476.2 469.0L476.2 451.8L478.6 440.7L483.6 429.6L494.6 418.5L507.0 411.7L524.2 404.9L545.0 403.0L567.4 402.3L591.7 406.5L607.5 410.7L620.0 417.6L629.2 423.9L651.0 432.4L655.0 434.0M483.5 535.0L484.9 530.6L492.2 519.3L496.0 505.0L498.5 492.3L497.0 482.0L494.6 470.0L493.4 453.0L500.8 434.5L511.9 424.6L524.2 418.5L539.0 414.2L544.0 414.6L560.0 417.0L575.8 419.7L581.3 420.4L598.2 430.2L612.3 440.1L626.4 447.9L651.0 457.0L655.0 458.5M504.0 535.0L504.7 530.6L507.0 520.0L509.2 509.2L511.3 500.0L512.6 492.3L513.0 472.4L513.1 461.6L516.8 451.8L524.2 443.8L535.0 440.0L550.0 439.0L568.0 441.6L577.0 443.6L586.9 451.4L598.9 462.7L602.4 465.5L616.5 473.9L624.7 477.6L651.7 483.8L655.0 484.5M521.0 535.0L521.6 530.6L524.0 520.0L525.5 509.2L526.7 492.3L531.0 484.0L536.5 476.0L536.5 470.8L542.1 465.1L553.5 467.6L562.0 468.6L577.2 474.0L588.0 483.0L597.8 492.8L624.7 507.2L651.7 511.6L655.0 512.0M546.0 535.0L545.6 530.4L543.7 518.0L543.7 510.9L556.7 500.8L569.7 506.5L584.3 517.8L597.2 528.3L600.0 535.0" fill="none" stroke="#3c3c3c" stroke-width="0.75" stroke-linejoin="round"/>
</g>
<path d="M438.90 531.60v-5.2 M474.43 531.60v-5.2 M509.97 531.60v-5.2 M545.50 531.60v-5.2 M581.03 531.60v-5.2 M616.57 531.60v-5.2 M652.10 531.60v-5.2 M456.67 531.60v-2.6 M492.20 531.60v-2.6 M527.73 531.60v-2.6 M563.27 531.60v-2.6 M598.80 531.60v-2.6 M634.33 531.60v-2.6" stroke="#000" stroke-width="1.3" fill="none"/>
<rect x="438.90" y="331.80" width="213.20" height="199.80" fill="none" stroke="#000" stroke-width="1.7"/>
<path d="M438.90 531.60h4.6 M438.90 506.62h4.6 M438.90 481.65h4.6 M438.90 456.68h4.6 M438.90 431.70h4.6 M438.90 406.73h4.6 M438.90 381.75h4.6 M438.90 356.77h4.6 M438.90 331.80h4.6 M438.90 519.11h2.6 M438.90 494.14h2.6 M438.90 469.16h2.6 M438.90 444.19h2.6 M438.90 419.21h2.6 M438.90 394.24h2.6 M438.90 369.26h2.6 M438.90 344.29h2.6" stroke="#000" stroke-width="1.3"/>
<text x="435.00" y="534.90" font-size="9.3" text-anchor="end" font-weight="bold" fill="#000" >40</text>
<text x="435.00" y="509.93" font-size="9.3" text-anchor="end" font-weight="bold" fill="#000" >50</text>
<text x="435.00" y="484.95" font-size="9.3" text-anchor="end" font-weight="bold" fill="#000" >60</text>
<text x="435.00" y="459.98" font-size="9.3" text-anchor="end" font-weight="bold" fill="#000" >70</text>
<text x="435.00" y="435.00" font-size="9.3" text-anchor="end" font-weight="bold" fill="#000" >80</text>
<text x="435.00" y="410.03" font-size="9.3" text-anchor="end" font-weight="bold" fill="#000" >90</text>
<text x="435.00" y="385.05" font-size="9.3" text-anchor="end" font-weight="bold" fill="#000" >100</text>
<text x="435.00" y="360.07" font-size="9.3" text-anchor="end" font-weight="bold" fill="#000" >110</text>
<text x="435.00" y="335.10" font-size="9.3" text-anchor="end" font-weight="bold" fill="#000" >120</text>
<text x="438.90" y="542.60" font-size="9.3" text-anchor="middle" font-weight="bold" fill="#000" >50</text>
<text x="474.43" y="542.60" font-size="9.3" text-anchor="middle" font-weight="bold" fill="#000" >60</text>
<text x="509.97" y="542.60" font-size="9.3" text-anchor="middle" font-weight="bold" fill="#000" >70</text>
<text x="545.50" y="542.60" font-size="9.3" text-anchor="middle" font-weight="bold" fill="#000" >80</text>
<text x="581.03" y="542.60" font-size="9.3" text-anchor="middle" font-weight="bold" fill="#000" >90</text>
<text x="616.57" y="542.60" font-size="9.3" text-anchor="middle" font-weight="bold" fill="#000" >100</text>
<text x="652.10" y="542.60" font-size="9.3" text-anchor="middle" font-weight="bold" fill="#000" >110</text>
<text x="0.00" y="0.00" font-size="13.3" text-anchor="middle" font-weight="bold" fill="#000" transform="translate(412.9,434.6) rotate(-90)" textLength="132.3" lengthAdjust="spacingAndGlyphs">ETL&#160; thickness (nm)</text>
<text x="545.50" y="562.50" font-size="13" text-anchor="middle" font-weight="bold" fill="#000" >HTL thickness (nm)</text>
<rect x="471.10" y="476.24" width="42.2" height="16.2" fill="#fff"/>
<text x="492.20" y="488.84" font-size="13.2" text-anchor="middle" font-weight="bold" fill="#000" textLength="40.0" lengthAdjust="spacingAndGlyphs">65 - 54</text>
<circle cx="492.20" cy="496.64" r="2.6" fill="#000"/>
<rect x="524.40" y="476.24" width="42.2" height="16.2" fill="#fff"/>
<text x="545.50" y="488.84" font-size="13.2" text-anchor="middle" font-weight="bold" fill="#ff0000" textLength="40.0" lengthAdjust="spacingAndGlyphs">80 - 54</text>
<circle cx="545.50" cy="496.64" r="2.6" fill="#000"/>
<rect x="577.70" y="476.24" width="42.2" height="16.2" fill="#fff"/>
<text x="598.80" y="488.84" font-size="13.2" text-anchor="middle" font-weight="bold" fill="#000" textLength="40.0" lengthAdjust="spacingAndGlyphs">95 - 54</text>
<circle cx="598.80" cy="496.64" r="2.6" fill="#000"/>
<rect x="524.40" y="426.29" width="42.2" height="16.2" fill="#fff"/>
<text x="545.50" y="438.88" font-size="13.2" text-anchor="middle" font-weight="bold" fill="#000" textLength="40.0" lengthAdjust="spacingAndGlyphs">80 - 74</text>
<circle cx="545.50" cy="446.69" r="2.6" fill="#000"/>
<rect x="524.40" y="388.82" width="42.2" height="16.2" fill="#fff"/>
<text x="545.50" y="401.42" font-size="13.2" text-anchor="middle" font-weight="bold" fill="#000" textLength="40.0" lengthAdjust="spacingAndGlyphs">80 - 89</text>
<circle cx="545.50" cy="409.22" r="2.6" fill="#000"/>
<rect x="524.40" y="351.36" width="49.8" height="16.2" fill="#fff"/>
<text x="549.30" y="363.96" font-size="13.2" text-anchor="middle" font-weight="bold" fill="#000" textLength="47.6" lengthAdjust="spacingAndGlyphs">80 - 104</text>
<circle cx="545.50" cy="371.76" r="2.6" fill="#000"/>
<rect x="663.0" y="530.22" width="16.80" height="3.38" fill="#0000ff"/>
<rect x="663.0" y="527.15" width="16.80" height="3.38" fill="#0008ff"/>
<rect x="663.0" y="524.07" width="16.80" height="3.38" fill="#0018ff"/>
<rect x="663.0" y="521.00" width="16.80" height="3.38" fill="#0028ff"/>
<rect x="663.0" y="517.92" width="16.80" height="3.38" fill="#0038ff"/>
<rect x="663.0" y="514.85" width="16.80" height="3.38" fill="#0048ff"/>
<rect x="663.0" y="511.77" width="16.80" height="3.38" fill="#0058ff"/>
<rect x="663.0" y="508.69" width="16.80" height="3.38" fill="#0068ff"/>
<rect x="663.0" y="505.62" width="16.80" height="3.38" fill="#0078ff"/>
<rect x="663.0" y="502.54" width="16.80" height="3.38" fill="#0087ff"/>
<rect x="663.0" y="499.47" width="16.80" height="3.38" fill="#0097ff"/>
<rect x="663.0" y="496.39" width="16.80" height="3.38" fill="#00a7ff"/>
<rect x="663.0" y="493.32" width="16.80" height="3.38" fill="#00b7ff"/>
<rect x="663.0" y="490.24" width="16.80" height="3.38" fill="#00c7ff"/>
<rect x="663.0" y="487.16" width="16.80" height="3.38" fill="#00d7ff"/>
<rect x="663.0" y="484.09" width="16.80" height="3.38" fill="#00e7ff"/>
<rect x="663.0" y="481.01" width="16.80" height="3.38" fill="#00f7ff"/>
<rect x="663.0" y="477.94" width="16.80" height="3.38" fill="#00fff7"/>
<rect x="663.0" y="474.86" width="16.80" height="3.38" fill="#00ffe7"/>
<rect x="663.0" y="471.78" width="16.80" height="3.38" fill="#00ffd7"/>
<rect x="663.0" y="468.71" width="16.80" height="3.38" fill="#00ffc7"/>
<rect x="663.0" y="465.63" width="16.80" height="3.38" fill="#00ffb7"/>
<rect x="663.0" y="462.56" width="16.80" height="3.38" fill="#00ffa7"/>
<rect x="663.0" y="459.48" width="16.80" height="3.38" fill="#00ff97"/>
<rect x="663.0" y="456.41" width="16.80" height="3.38" fill="#00ff87"/>
<rect x="663.0" y="453.33" width="16.80" height="3.38" fill="#00ff78"/>
<rect x="663.0" y="450.25" width="16.80" height="3.38" fill="#00ff68"/>
<rect x="663.0" y="447.18" width="16.80" height="3.38" fill="#00ff58"/>
<rect x="663.0" y="444.10" width="16.80" height="3.38" fill="#00ff48"/>
<rect x="663.0" y="441.03" width="16.80" height="3.38" fill="#00ff38"/>
<rect x="663.0" y="437.95" width="16.80" height="3.38" fill="#00ff28"/>
<rect x="663.0" y="434.88" width="16.80" height="3.38" fill="#00ff18"/>
<rect x="663.0" y="431.80" width="16.80" height="3.38" fill="#00ff08"/>
<rect x="663.0" y="428.72" width="16.80" height="3.38" fill="#08ff00"/>
<rect x="663.0" y="425.65" width="16.80" height="3.38" fill="#18ff00"/>
<rect x="663.0" y="422.57" width="16.80" height="3.38" fill="#28ff00"/>
<rect x="663.0" y="419.50" width="16.80" height="3.38" fill="#38ff00"/>
<rect x="663.0" y="416.42" width="16.80" height="3.38" fill="#48ff00"/>
<rect x="663.0" y="413.35" width="16.80" height="3.38" fill="#58ff00"/>
<rect x="663.0" y="410.27" width="16.80" height="3.38" fill="#68ff00"/>
<rect x="663.0" y="407.19" width="16.80" height="3.38" fill="#78ff00"/>
<rect x="663.0" y="404.12" width="16.80" height="3.38" fill="#87ff00"/>
<rect x="663.0" y="401.04" width="16.80" height="3.38" fill="#97ff00"/>
<rect x="663.0" y="397.97" width="16.80" height="3.38" fill="#a7ff00"/>
<rect x="663.0" y="394.89" width="16.80" height="3.38" fill="#b7ff00"/>
<rect x="663.0" y="391.82" width="16.80" height="3.38" fill="#c7ff00"/>
<rect x="663.0" y="388.74" width="16.80" height="3.38" fill="#d7ff00"/>
<rect x="663.0" y="385.66" width="16.80" height="3.38" fill="#e7ff00"/>
<rect x="663.0" y="382.59" width="16.80" height="3.38" fill="#f7ff00"/>
<rect x="663.0" y="379.51" width="16.80" height="3.38" fill="#fff700"/>
<rect x="663.0" y="376.44" width="16.80" height="3.38" fill="#ffe700"/>
<rect x="663.0" y="373.36" width="16.80" height="3.38" fill="#ffd700"/>
<rect x="663.0" y="370.28" width="16.80" height="3.38" fill="#ffc700"/>
<rect x="663.0" y="367.21" width="16.80" height="3.38" fill="#ffb700"/>
<rect x="663.0" y="364.13" width="16.80" height="3.38" fill="#ffa700"/>
<rect x="663.0" y="361.06" width="16.80" height="3.38" fill="#ff9700"/>
<rect x="663.0" y="357.98" width="16.80" height="3.38" fill="#ff8700"/>
<rect x="663.0" y="354.91" width="16.80" height="3.38" fill="#ff7800"/>
<rect x="663.0" y="351.83" width="16.80" height="3.38" fill="#ff6800"/>
<rect x="663.0" y="348.75" width="16.80" height="3.38" fill="#ff5800"/>
<rect x="663.0" y="345.68" width="16.80" height="3.38" fill="#ff4800"/>
<rect x="663.0" y="342.60" width="16.80" height="3.38" fill="#ff3800"/>
<rect x="663.0" y="339.53" width="16.80" height="3.38" fill="#ff2800"/>
<rect x="663.0" y="336.45" width="16.80" height="3.38" fill="#ff1800"/>
<rect x="663.0" y="333.38" width="16.80" height="3.38" fill="#ff0800"/>
<rect x="663.0" y="330.30" width="16.80" height="3.38" fill="#ff0000"/>
<rect x="663.0" y="330.3" width="16.80" height="203.00" fill="none" stroke="#000" stroke-width="1.5"/>
<text x="684.2" y="533.30" font-size="9.6" font-weight="bold" text-anchor="start">10.65</text>
<text x="684.2" y="508.81" font-size="9.6" font-weight="bold" text-anchor="start">12.29</text>
<text x="684.2" y="484.32" font-size="9.6" font-weight="bold" text-anchor="start">13.94</text>
<text x="684.2" y="459.84" font-size="9.6" font-weight="bold" text-anchor="start">15.58</text>
<text x="684.2" y="435.35" font-size="9.6" font-weight="bold" text-anchor="start">17.23</text>
<text x="684.2" y="410.86" font-size="9.6" font-weight="bold" text-anchor="start">18.87</text>
<text x="684.2" y="386.38" font-size="9.6" font-weight="bold" text-anchor="start">20.51</text>
<text x="684.2" y="361.89" font-size="9.6" font-weight="bold" text-anchor="start">22.16</text>
<text x="684.2" y="337.40" font-size="9.6" font-weight="bold" text-anchor="start">23.80</text>
<path d="M679.80 530.00h-3.2M679.80 505.51h-3.2M679.80 481.02h-3.2M679.80 456.54h-3.2M679.80 432.05h-3.2M679.80 407.56h-3.2M679.80 383.08h-3.2M679.80 358.59h-3.2M679.80 334.10h-3.2" stroke="#000" stroke-width="1.3"/>
<text x="671.60" y="316.00" font-size="12" text-anchor="middle" font-weight="bold" fill="#000" textLength="61.5" lengthAdjust="spacingAndGlyphs">Peak EQE</text>
</svg></body></html>
